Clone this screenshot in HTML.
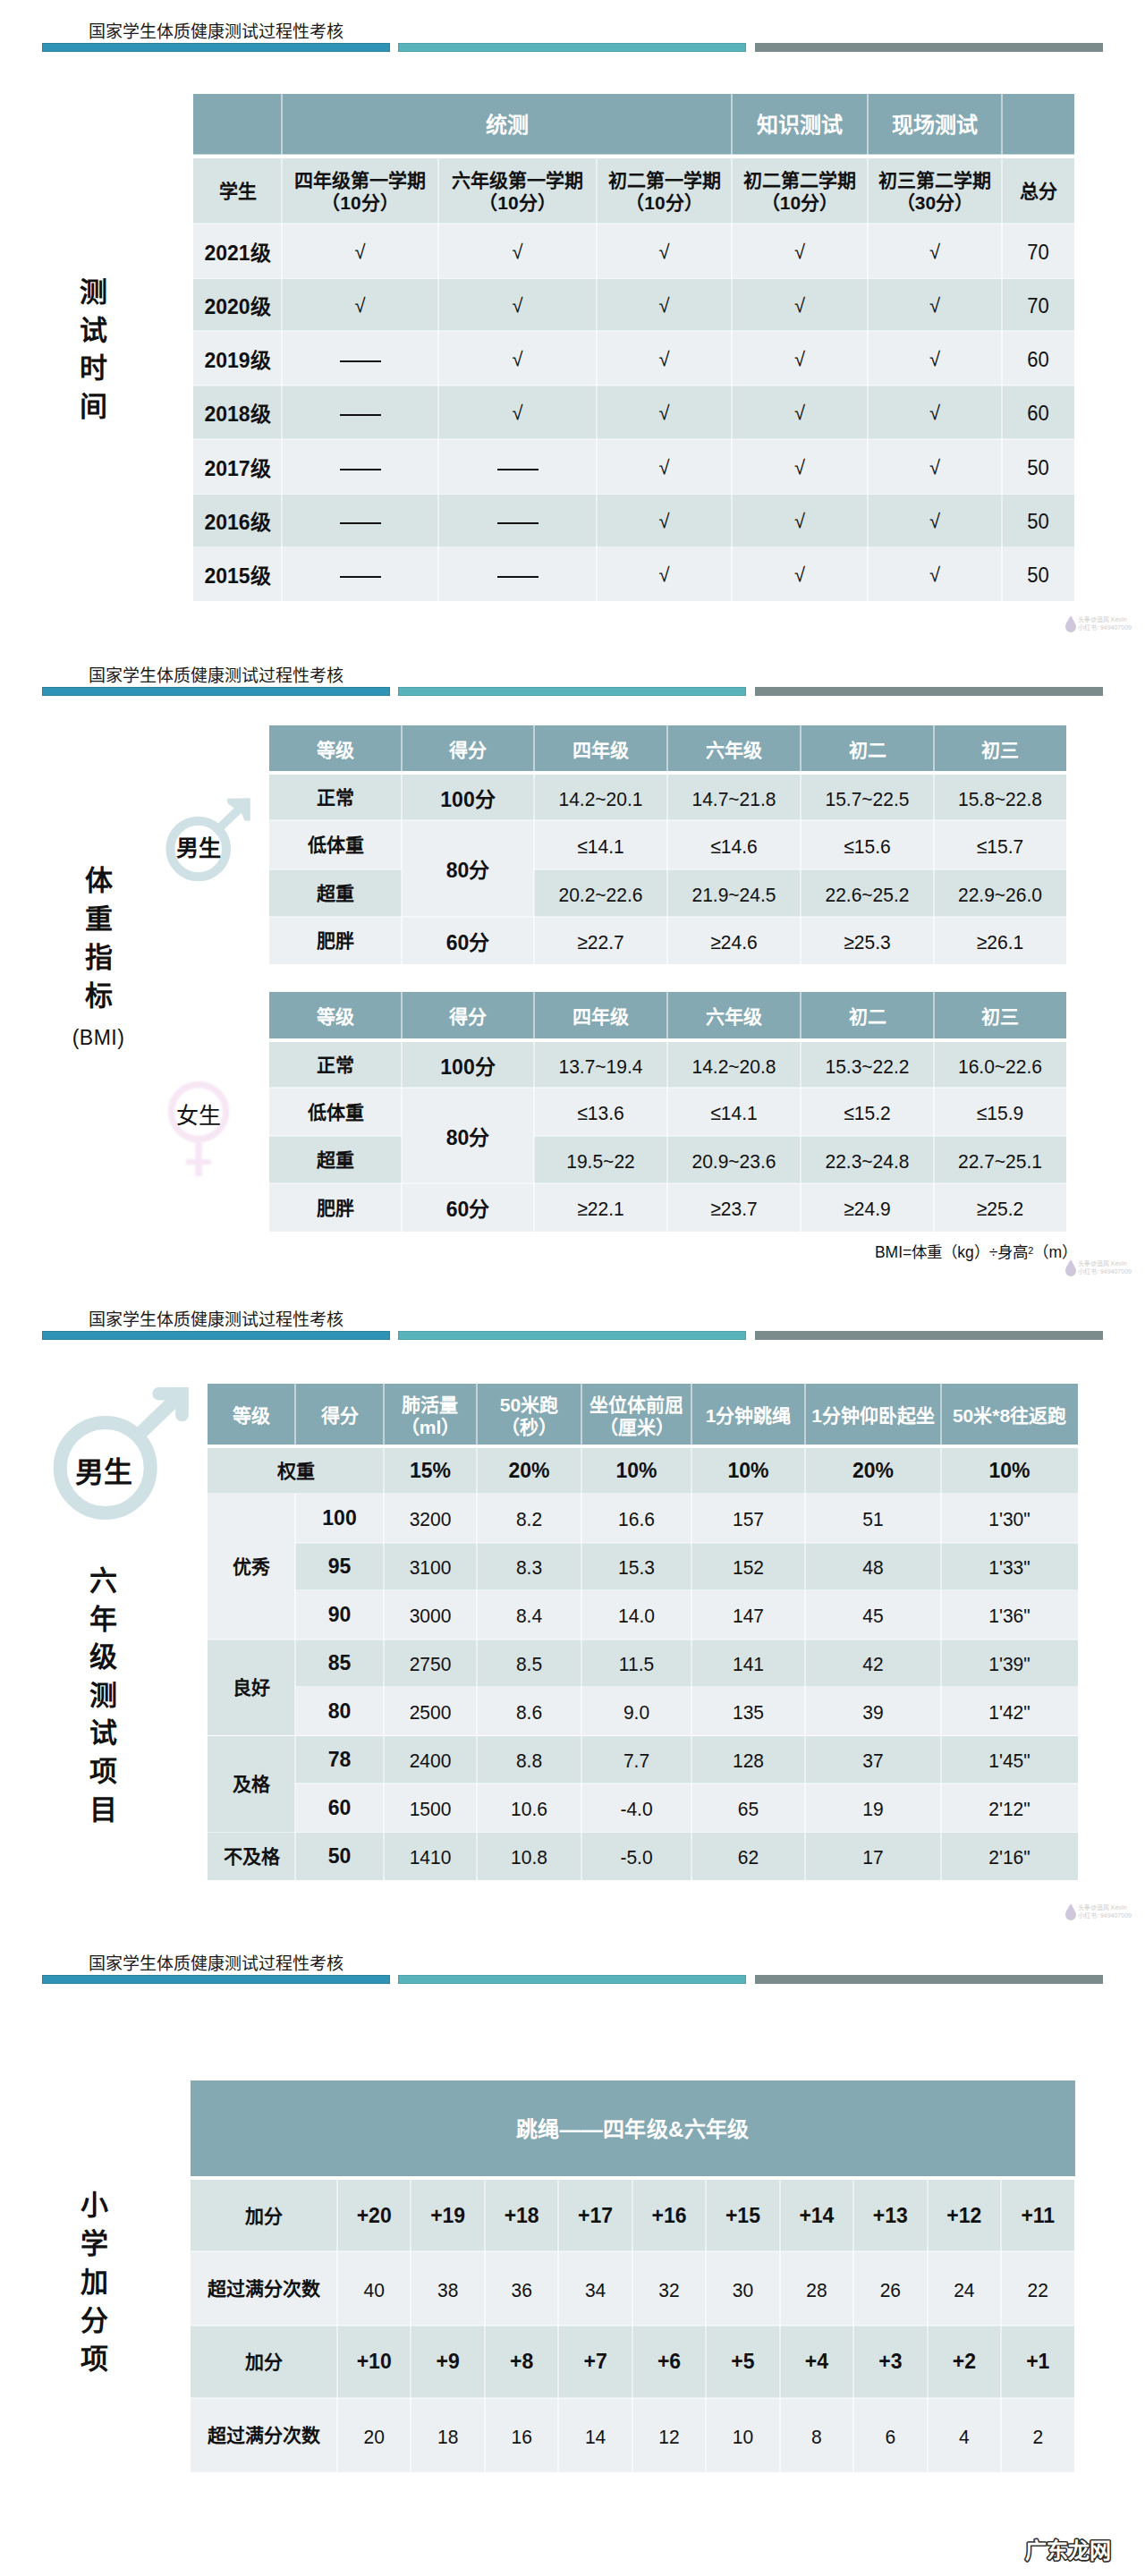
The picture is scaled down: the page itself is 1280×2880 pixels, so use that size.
<!DOCTYPE html>
<html lang="zh-CN"><head><meta charset="utf-8">
<style>
html,body{margin:0;padding:0;background:#fff;}
body{width:1280px;height:2880px;position:relative;overflow:hidden;font-family:"Liberation Sans",sans-serif;color:#111;}
.r{position:absolute;}
.t{position:absolute;display:flex;align-items:center;justify-content:center;text-align:center;white-space:nowrap;}
.ttl{justify-content:flex-start;font-family:"Liberation Serif",serif;font-size:19px;color:#1a1a1a;}
.vt{font-family:"Liberation Serif",serif;color:#111;}
.hw{color:#fff;font-weight:bold;font-size:24px;padding-bottom:3px;box-sizing:border-box;}
.hw21{color:#fff;font-weight:bold;font-size:21px;}
.hw20{color:#fff;font-weight:bold;font-size:21px;line-height:25px;padding-top:3px;box-sizing:border-box;}
.b21{font-weight:bold;font-size:21px;line-height:25px;}
.b22{font-weight:bold;font-size:23px;}
.n22{font-size:22px;}
.n21{font-size:21px;}
.n21 span,.n22 span{display:inline-block;transform:scaleY(1.07) translateY(1px);}
.chk{font-size:22px;padding-top:2px;box-sizing:border-box;}
.dl{display:block;width:46px;height:2px;background:#111;margin-top:6px;}
.gs{font-family:"Liberation Serif",serif;font-size:25px;}
.bmi{font-size:23px;letter-spacing:0.5px;}
.foot{justify-content:flex-end;font-size:17.5px;}
.foot sup{font-size:11px;line-height:0;}
.wm{font-size:24px;font-weight:bold;color:#fff;-webkit-text-stroke:1.2px #222;}
</style></head><body>
<svg class="r" style="left:1188px;top:686px" width="80" height="22"><path d="M9,2 C6,8 3,11 3,15 A6,6 0 0 0 15,15 C15,11 12,8 9,2Z" fill="#cfc8dc"/><text x="17" y="9" font-size="7" fill="#cdcdcd" font-family="Liberation Sans, sans-serif">头条@追风 Kevin</text><text x="17" y="18" font-size="7" fill="#cdcdcd" font-family="Liberation Sans, sans-serif">小红书: 949407009</text></svg>
<svg class="r" style="left:1188px;top:1406px" width="80" height="22"><path d="M9,2 C6,8 3,11 3,15 A6,6 0 0 0 15,15 C15,11 12,8 9,2Z" fill="#cfc8dc"/><text x="17" y="9" font-size="7" fill="#cdcdcd" font-family="Liberation Sans, sans-serif">头条@追风 Kevin</text><text x="17" y="18" font-size="7" fill="#cdcdcd" font-family="Liberation Sans, sans-serif">小红书: 949407009</text></svg>
<svg class="r" style="left:1188px;top:2126px" width="80" height="22"><path d="M9,2 C6,8 3,11 3,15 A6,6 0 0 0 15,15 C15,11 12,8 9,2Z" fill="#cfc8dc"/><text x="17" y="9" font-size="7" fill="#cdcdcd" font-family="Liberation Sans, sans-serif">头条@追风 Kevin</text><text x="17" y="18" font-size="7" fill="#cdcdcd" font-family="Liberation Sans, sans-serif">小红书: 949407009</text></svg>
<div class="t ttl" style="left:99px;top:21px;width:501px;height:25px;">国家学生体质健康测试过程性考核</div>
<div class="r" style="left:47px;top:48px;width:389px;height:10px;background:#2f93b5;box-shadow:inset 0 0 0 1px rgba(40,80,100,0.25)"></div>
<div class="r" style="left:445px;top:48px;width:389px;height:10px;background:#59b3bb;box-shadow:inset 0 0 0 1px rgba(40,90,100,0.2)"></div>
<div class="r" style="left:844px;top:48px;width:389px;height:10px;background:#7b8a8a;"></div>
<div class="t vt" style="left:74px;top:306.0px;width:60px;height:42.5px;font-size:31px;line-height:42.5px;font-weight:bold">测</div>
<div class="t vt" style="left:74px;top:348.5px;width:60px;height:42.5px;font-size:31px;line-height:42.5px;font-weight:bold">试</div>
<div class="t vt" style="left:74px;top:391.0px;width:60px;height:42.5px;font-size:31px;line-height:42.5px;font-weight:bold">时</div>
<div class="t vt" style="left:74px;top:433.5px;width:60px;height:42.5px;font-size:31px;line-height:42.5px;font-weight:bold">间</div>
<div class="r" style="left:216px;top:105px;width:99px;height:68px;background:#84a9b3;"></div>
<div class="r" style="left:315px;top:105px;width:503px;height:68px;background:#84a9b3;"></div>
<div class="t hw" style="left:315px;top:105px;width:503px;height:68px;">统测</div>
<div class="r" style="left:818px;top:105px;width:152px;height:68px;background:#84a9b3;"></div>
<div class="t hw" style="left:818px;top:105px;width:152px;height:68px;">知识测试</div>
<div class="r" style="left:970px;top:105px;width:150px;height:68px;background:#84a9b3;"></div>
<div class="t hw" style="left:970px;top:105px;width:150px;height:68px;">现场测试</div>
<div class="r" style="left:1120px;top:105px;width:81px;height:68px;background:#84a9b3;"></div>
<div class="r" style="left:314px;top:105px;width:2px;height:68px;background:rgba(255,255,255,0.5);"></div>
<div class="r" style="left:817px;top:105px;width:2px;height:68px;background:rgba(255,255,255,0.5);"></div>
<div class="r" style="left:969px;top:105px;width:2px;height:68px;background:rgba(255,255,255,0.5);"></div>
<div class="r" style="left:1119px;top:105px;width:2px;height:68px;background:rgba(255,255,255,0.5);"></div>
<div class="r" style="left:216px;top:172px;width:99px;height:1.5px;background:rgba(255,255,255,0.45);"></div>
<div class="r" style="left:315px;top:172px;width:503px;height:1.5px;background:rgba(255,255,255,0.45);"></div>
<div class="r" style="left:818px;top:172px;width:152px;height:1.5px;background:rgba(255,255,255,0.45);"></div>
<div class="r" style="left:970px;top:172px;width:150px;height:1.5px;background:rgba(255,255,255,0.45);"></div>
<div class="r" style="left:1120px;top:172px;width:81px;height:1.5px;background:rgba(255,255,255,0.45);"></div>
<div class="r" style="left:216px;top:173px;width:985px;height:4px;background:#ffffff;"></div>
<div class="r" style="left:216px;top:177px;width:99px;height:73px;background:#d8e3e4;"></div>
<div class="t b21" style="left:216px;top:177px;width:99px;height:73px;">学生</div>
<div class="r" style="left:315px;top:177px;width:175px;height:73px;background:#d8e3e4;"></div>
<div class="t b21" style="left:315px;top:177px;width:175px;height:73px;">四年级第一学期<br>（10分）</div>
<div class="r" style="left:490px;top:177px;width:177px;height:73px;background:#d8e3e4;"></div>
<div class="t b21" style="left:490px;top:177px;width:177px;height:73px;">六年级第一学期<br>（10分）</div>
<div class="r" style="left:667px;top:177px;width:151px;height:73px;background:#d8e3e4;"></div>
<div class="t b21" style="left:667px;top:177px;width:151px;height:73px;">初二第一学期<br>（10分）</div>
<div class="r" style="left:818px;top:177px;width:152px;height:73px;background:#d8e3e4;"></div>
<div class="t b21" style="left:818px;top:177px;width:152px;height:73px;">初二第二学期<br>（10分）</div>
<div class="r" style="left:970px;top:177px;width:150px;height:73px;background:#d8e3e4;"></div>
<div class="t b21" style="left:970px;top:177px;width:150px;height:73px;">初三第二学期<br>（30分）</div>
<div class="r" style="left:1120px;top:177px;width:81px;height:73px;background:#d8e3e4;"></div>
<div class="t b21" style="left:1120px;top:177px;width:81px;height:73px;">总分</div>
<div class="r" style="left:216px;top:250px;width:99px;height:61.60000000000002px;background:#ecf0f3;"></div>
<div class="t b22" style="left:216px;top:250px;width:99px;height:61.60000000000002px;">2021级</div>
<div class="r" style="left:315px;top:250px;width:175px;height:61.60000000000002px;background:#ecf0f3;"></div>
<div class="t chk" style="left:315px;top:250px;width:175px;height:61.60000000000002px;">√</div>
<div class="r" style="left:490px;top:250px;width:177px;height:61.60000000000002px;background:#ecf0f3;"></div>
<div class="t chk" style="left:490px;top:250px;width:177px;height:61.60000000000002px;">√</div>
<div class="r" style="left:667px;top:250px;width:151px;height:61.60000000000002px;background:#ecf0f3;"></div>
<div class="t chk" style="left:667px;top:250px;width:151px;height:61.60000000000002px;">√</div>
<div class="r" style="left:818px;top:250px;width:152px;height:61.60000000000002px;background:#ecf0f3;"></div>
<div class="t chk" style="left:818px;top:250px;width:152px;height:61.60000000000002px;">√</div>
<div class="r" style="left:970px;top:250px;width:150px;height:61.60000000000002px;background:#ecf0f3;"></div>
<div class="t chk" style="left:970px;top:250px;width:150px;height:61.60000000000002px;">√</div>
<div class="r" style="left:1120px;top:250px;width:81px;height:61.60000000000002px;background:#ecf0f3;"></div>
<div class="t n22" style="left:1120px;top:250px;width:81px;height:61.60000000000002px;"><span>70</span></div>
<div class="r" style="left:216px;top:311.6px;width:99px;height:58.39999999999998px;background:#d8e3e4;"></div>
<div class="t b22" style="left:216px;top:311.6px;width:99px;height:58.39999999999998px;">2020级</div>
<div class="r" style="left:315px;top:311.6px;width:175px;height:58.39999999999998px;background:#d8e3e4;"></div>
<div class="t chk" style="left:315px;top:311.6px;width:175px;height:58.39999999999998px;">√</div>
<div class="r" style="left:490px;top:311.6px;width:177px;height:58.39999999999998px;background:#d8e3e4;"></div>
<div class="t chk" style="left:490px;top:311.6px;width:177px;height:58.39999999999998px;">√</div>
<div class="r" style="left:667px;top:311.6px;width:151px;height:58.39999999999998px;background:#d8e3e4;"></div>
<div class="t chk" style="left:667px;top:311.6px;width:151px;height:58.39999999999998px;">√</div>
<div class="r" style="left:818px;top:311.6px;width:152px;height:58.39999999999998px;background:#d8e3e4;"></div>
<div class="t chk" style="left:818px;top:311.6px;width:152px;height:58.39999999999998px;">√</div>
<div class="r" style="left:970px;top:311.6px;width:150px;height:58.39999999999998px;background:#d8e3e4;"></div>
<div class="t chk" style="left:970px;top:311.6px;width:150px;height:58.39999999999998px;">√</div>
<div class="r" style="left:1120px;top:311.6px;width:81px;height:58.39999999999998px;background:#d8e3e4;"></div>
<div class="t n22" style="left:1120px;top:311.6px;width:81px;height:58.39999999999998px;"><span>70</span></div>
<div class="r" style="left:216px;top:370px;width:99px;height:61px;background:#ecf0f3;"></div>
<div class="t b22" style="left:216px;top:370px;width:99px;height:61px;">2019级</div>
<div class="r" style="left:315px;top:370px;width:175px;height:61px;background:#ecf0f3;"></div>
<div class="t dash" style="left:315px;top:370px;width:175px;height:61px;"><span class="dl"></span></div>
<div class="r" style="left:490px;top:370px;width:177px;height:61px;background:#ecf0f3;"></div>
<div class="t chk" style="left:490px;top:370px;width:177px;height:61px;">√</div>
<div class="r" style="left:667px;top:370px;width:151px;height:61px;background:#ecf0f3;"></div>
<div class="t chk" style="left:667px;top:370px;width:151px;height:61px;">√</div>
<div class="r" style="left:818px;top:370px;width:152px;height:61px;background:#ecf0f3;"></div>
<div class="t chk" style="left:818px;top:370px;width:152px;height:61px;">√</div>
<div class="r" style="left:970px;top:370px;width:150px;height:61px;background:#ecf0f3;"></div>
<div class="t chk" style="left:970px;top:370px;width:150px;height:61px;">√</div>
<div class="r" style="left:1120px;top:370px;width:81px;height:61px;background:#ecf0f3;"></div>
<div class="t n22" style="left:1120px;top:370px;width:81px;height:61px;"><span>60</span></div>
<div class="r" style="left:216px;top:431px;width:99px;height:60.39999999999998px;background:#d8e3e4;"></div>
<div class="t b22" style="left:216px;top:431px;width:99px;height:60.39999999999998px;">2018级</div>
<div class="r" style="left:315px;top:431px;width:175px;height:60.39999999999998px;background:#d8e3e4;"></div>
<div class="t dash" style="left:315px;top:431px;width:175px;height:60.39999999999998px;"><span class="dl"></span></div>
<div class="r" style="left:490px;top:431px;width:177px;height:60.39999999999998px;background:#d8e3e4;"></div>
<div class="t chk" style="left:490px;top:431px;width:177px;height:60.39999999999998px;">√</div>
<div class="r" style="left:667px;top:431px;width:151px;height:60.39999999999998px;background:#d8e3e4;"></div>
<div class="t chk" style="left:667px;top:431px;width:151px;height:60.39999999999998px;">√</div>
<div class="r" style="left:818px;top:431px;width:152px;height:60.39999999999998px;background:#d8e3e4;"></div>
<div class="t chk" style="left:818px;top:431px;width:152px;height:60.39999999999998px;">√</div>
<div class="r" style="left:970px;top:431px;width:150px;height:60.39999999999998px;background:#d8e3e4;"></div>
<div class="t chk" style="left:970px;top:431px;width:150px;height:60.39999999999998px;">√</div>
<div class="r" style="left:1120px;top:431px;width:81px;height:60.39999999999998px;background:#d8e3e4;"></div>
<div class="t n22" style="left:1120px;top:431px;width:81px;height:60.39999999999998px;"><span>60</span></div>
<div class="r" style="left:216px;top:491.4px;width:99px;height:61.200000000000045px;background:#ecf0f3;"></div>
<div class="t b22" style="left:216px;top:491.4px;width:99px;height:61.200000000000045px;">2017级</div>
<div class="r" style="left:315px;top:491.4px;width:175px;height:61.200000000000045px;background:#ecf0f3;"></div>
<div class="t dash" style="left:315px;top:491.4px;width:175px;height:61.200000000000045px;"><span class="dl"></span></div>
<div class="r" style="left:490px;top:491.4px;width:177px;height:61.200000000000045px;background:#ecf0f3;"></div>
<div class="t dash" style="left:490px;top:491.4px;width:177px;height:61.200000000000045px;"><span class="dl"></span></div>
<div class="r" style="left:667px;top:491.4px;width:151px;height:61.200000000000045px;background:#ecf0f3;"></div>
<div class="t chk" style="left:667px;top:491.4px;width:151px;height:61.200000000000045px;">√</div>
<div class="r" style="left:818px;top:491.4px;width:152px;height:61.200000000000045px;background:#ecf0f3;"></div>
<div class="t chk" style="left:818px;top:491.4px;width:152px;height:61.200000000000045px;">√</div>
<div class="r" style="left:970px;top:491.4px;width:150px;height:61.200000000000045px;background:#ecf0f3;"></div>
<div class="t chk" style="left:970px;top:491.4px;width:150px;height:61.200000000000045px;">√</div>
<div class="r" style="left:1120px;top:491.4px;width:81px;height:61.200000000000045px;background:#ecf0f3;"></div>
<div class="t n22" style="left:1120px;top:491.4px;width:81px;height:61.200000000000045px;"><span>50</span></div>
<div class="r" style="left:216px;top:552.6px;width:99px;height:59.0px;background:#d8e3e4;"></div>
<div class="t b22" style="left:216px;top:552.6px;width:99px;height:59.0px;">2016级</div>
<div class="r" style="left:315px;top:552.6px;width:175px;height:59.0px;background:#d8e3e4;"></div>
<div class="t dash" style="left:315px;top:552.6px;width:175px;height:59.0px;"><span class="dl"></span></div>
<div class="r" style="left:490px;top:552.6px;width:177px;height:59.0px;background:#d8e3e4;"></div>
<div class="t dash" style="left:490px;top:552.6px;width:177px;height:59.0px;"><span class="dl"></span></div>
<div class="r" style="left:667px;top:552.6px;width:151px;height:59.0px;background:#d8e3e4;"></div>
<div class="t chk" style="left:667px;top:552.6px;width:151px;height:59.0px;">√</div>
<div class="r" style="left:818px;top:552.6px;width:152px;height:59.0px;background:#d8e3e4;"></div>
<div class="t chk" style="left:818px;top:552.6px;width:152px;height:59.0px;">√</div>
<div class="r" style="left:970px;top:552.6px;width:150px;height:59.0px;background:#d8e3e4;"></div>
<div class="t chk" style="left:970px;top:552.6px;width:150px;height:59.0px;">√</div>
<div class="r" style="left:1120px;top:552.6px;width:81px;height:59.0px;background:#d8e3e4;"></div>
<div class="t n22" style="left:1120px;top:552.6px;width:81px;height:59.0px;"><span>50</span></div>
<div class="r" style="left:216px;top:611.6px;width:99px;height:60.39999999999998px;background:#ecf0f3;"></div>
<div class="t b22" style="left:216px;top:611.6px;width:99px;height:60.39999999999998px;">2015级</div>
<div class="r" style="left:315px;top:611.6px;width:175px;height:60.39999999999998px;background:#ecf0f3;"></div>
<div class="t dash" style="left:315px;top:611.6px;width:175px;height:60.39999999999998px;"><span class="dl"></span></div>
<div class="r" style="left:490px;top:611.6px;width:177px;height:60.39999999999998px;background:#ecf0f3;"></div>
<div class="t dash" style="left:490px;top:611.6px;width:177px;height:60.39999999999998px;"><span class="dl"></span></div>
<div class="r" style="left:667px;top:611.6px;width:151px;height:60.39999999999998px;background:#ecf0f3;"></div>
<div class="t chk" style="left:667px;top:611.6px;width:151px;height:60.39999999999998px;">√</div>
<div class="r" style="left:818px;top:611.6px;width:152px;height:60.39999999999998px;background:#ecf0f3;"></div>
<div class="t chk" style="left:818px;top:611.6px;width:152px;height:60.39999999999998px;">√</div>
<div class="r" style="left:970px;top:611.6px;width:150px;height:60.39999999999998px;background:#ecf0f3;"></div>
<div class="t chk" style="left:970px;top:611.6px;width:150px;height:60.39999999999998px;">√</div>
<div class="r" style="left:1120px;top:611.6px;width:81px;height:60.39999999999998px;background:#ecf0f3;"></div>
<div class="t n22" style="left:1120px;top:611.6px;width:81px;height:60.39999999999998px;"><span>50</span></div>
<div class="r" style="left:314px;top:177px;width:2px;height:73px;background:rgba(255,255,255,0.5);"></div>
<div class="r" style="left:489px;top:177px;width:2px;height:73px;background:rgba(255,255,255,0.5);"></div>
<div class="r" style="left:666px;top:177px;width:2px;height:73px;background:rgba(255,255,255,0.5);"></div>
<div class="r" style="left:817px;top:177px;width:2px;height:73px;background:rgba(255,255,255,0.5);"></div>
<div class="r" style="left:969px;top:177px;width:2px;height:73px;background:rgba(255,255,255,0.5);"></div>
<div class="r" style="left:1119px;top:177px;width:2px;height:73px;background:rgba(255,255,255,0.5);"></div>
<div class="r" style="left:314px;top:250px;width:2px;height:61.60000000000002px;background:rgba(255,255,255,0.5);"></div>
<div class="r" style="left:489px;top:250px;width:2px;height:61.60000000000002px;background:rgba(255,255,255,0.5);"></div>
<div class="r" style="left:666px;top:250px;width:2px;height:61.60000000000002px;background:rgba(255,255,255,0.5);"></div>
<div class="r" style="left:817px;top:250px;width:2px;height:61.60000000000002px;background:rgba(255,255,255,0.5);"></div>
<div class="r" style="left:969px;top:250px;width:2px;height:61.60000000000002px;background:rgba(255,255,255,0.5);"></div>
<div class="r" style="left:1119px;top:250px;width:2px;height:61.60000000000002px;background:rgba(255,255,255,0.5);"></div>
<div class="r" style="left:314px;top:311.6px;width:2px;height:58.39999999999998px;background:rgba(255,255,255,0.5);"></div>
<div class="r" style="left:489px;top:311.6px;width:2px;height:58.39999999999998px;background:rgba(255,255,255,0.5);"></div>
<div class="r" style="left:666px;top:311.6px;width:2px;height:58.39999999999998px;background:rgba(255,255,255,0.5);"></div>
<div class="r" style="left:817px;top:311.6px;width:2px;height:58.39999999999998px;background:rgba(255,255,255,0.5);"></div>
<div class="r" style="left:969px;top:311.6px;width:2px;height:58.39999999999998px;background:rgba(255,255,255,0.5);"></div>
<div class="r" style="left:1119px;top:311.6px;width:2px;height:58.39999999999998px;background:rgba(255,255,255,0.5);"></div>
<div class="r" style="left:314px;top:370px;width:2px;height:61px;background:rgba(255,255,255,0.5);"></div>
<div class="r" style="left:489px;top:370px;width:2px;height:61px;background:rgba(255,255,255,0.5);"></div>
<div class="r" style="left:666px;top:370px;width:2px;height:61px;background:rgba(255,255,255,0.5);"></div>
<div class="r" style="left:817px;top:370px;width:2px;height:61px;background:rgba(255,255,255,0.5);"></div>
<div class="r" style="left:969px;top:370px;width:2px;height:61px;background:rgba(255,255,255,0.5);"></div>
<div class="r" style="left:1119px;top:370px;width:2px;height:61px;background:rgba(255,255,255,0.5);"></div>
<div class="r" style="left:314px;top:431px;width:2px;height:60.39999999999998px;background:rgba(255,255,255,0.5);"></div>
<div class="r" style="left:489px;top:431px;width:2px;height:60.39999999999998px;background:rgba(255,255,255,0.5);"></div>
<div class="r" style="left:666px;top:431px;width:2px;height:60.39999999999998px;background:rgba(255,255,255,0.5);"></div>
<div class="r" style="left:817px;top:431px;width:2px;height:60.39999999999998px;background:rgba(255,255,255,0.5);"></div>
<div class="r" style="left:969px;top:431px;width:2px;height:60.39999999999998px;background:rgba(255,255,255,0.5);"></div>
<div class="r" style="left:1119px;top:431px;width:2px;height:60.39999999999998px;background:rgba(255,255,255,0.5);"></div>
<div class="r" style="left:314px;top:491.4px;width:2px;height:61.200000000000045px;background:rgba(255,255,255,0.5);"></div>
<div class="r" style="left:489px;top:491.4px;width:2px;height:61.200000000000045px;background:rgba(255,255,255,0.5);"></div>
<div class="r" style="left:666px;top:491.4px;width:2px;height:61.200000000000045px;background:rgba(255,255,255,0.5);"></div>
<div class="r" style="left:817px;top:491.4px;width:2px;height:61.200000000000045px;background:rgba(255,255,255,0.5);"></div>
<div class="r" style="left:969px;top:491.4px;width:2px;height:61.200000000000045px;background:rgba(255,255,255,0.5);"></div>
<div class="r" style="left:1119px;top:491.4px;width:2px;height:61.200000000000045px;background:rgba(255,255,255,0.5);"></div>
<div class="r" style="left:314px;top:552.6px;width:2px;height:59.0px;background:rgba(255,255,255,0.5);"></div>
<div class="r" style="left:489px;top:552.6px;width:2px;height:59.0px;background:rgba(255,255,255,0.5);"></div>
<div class="r" style="left:666px;top:552.6px;width:2px;height:59.0px;background:rgba(255,255,255,0.5);"></div>
<div class="r" style="left:817px;top:552.6px;width:2px;height:59.0px;background:rgba(255,255,255,0.5);"></div>
<div class="r" style="left:969px;top:552.6px;width:2px;height:59.0px;background:rgba(255,255,255,0.5);"></div>
<div class="r" style="left:1119px;top:552.6px;width:2px;height:59.0px;background:rgba(255,255,255,0.5);"></div>
<div class="r" style="left:314px;top:611.6px;width:2px;height:60.39999999999998px;background:rgba(255,255,255,0.5);"></div>
<div class="r" style="left:489px;top:611.6px;width:2px;height:60.39999999999998px;background:rgba(255,255,255,0.5);"></div>
<div class="r" style="left:666px;top:611.6px;width:2px;height:60.39999999999998px;background:rgba(255,255,255,0.5);"></div>
<div class="r" style="left:817px;top:611.6px;width:2px;height:60.39999999999998px;background:rgba(255,255,255,0.5);"></div>
<div class="r" style="left:969px;top:611.6px;width:2px;height:60.39999999999998px;background:rgba(255,255,255,0.5);"></div>
<div class="r" style="left:1119px;top:611.6px;width:2px;height:60.39999999999998px;background:rgba(255,255,255,0.5);"></div>
<div class="r" style="left:216px;top:249px;width:99px;height:1.5px;background:rgba(255,255,255,0.45);"></div>
<div class="r" style="left:315px;top:249px;width:175px;height:1.5px;background:rgba(255,255,255,0.45);"></div>
<div class="r" style="left:490px;top:249px;width:177px;height:1.5px;background:rgba(255,255,255,0.45);"></div>
<div class="r" style="left:667px;top:249px;width:151px;height:1.5px;background:rgba(255,255,255,0.45);"></div>
<div class="r" style="left:818px;top:249px;width:152px;height:1.5px;background:rgba(255,255,255,0.45);"></div>
<div class="r" style="left:970px;top:249px;width:150px;height:1.5px;background:rgba(255,255,255,0.45);"></div>
<div class="r" style="left:1120px;top:249px;width:81px;height:1.5px;background:rgba(255,255,255,0.45);"></div>
<div class="r" style="left:216px;top:310.6px;width:99px;height:1.5px;background:rgba(255,255,255,0.45);"></div>
<div class="r" style="left:315px;top:310.6px;width:175px;height:1.5px;background:rgba(255,255,255,0.45);"></div>
<div class="r" style="left:490px;top:310.6px;width:177px;height:1.5px;background:rgba(255,255,255,0.45);"></div>
<div class="r" style="left:667px;top:310.6px;width:151px;height:1.5px;background:rgba(255,255,255,0.45);"></div>
<div class="r" style="left:818px;top:310.6px;width:152px;height:1.5px;background:rgba(255,255,255,0.45);"></div>
<div class="r" style="left:970px;top:310.6px;width:150px;height:1.5px;background:rgba(255,255,255,0.45);"></div>
<div class="r" style="left:1120px;top:310.6px;width:81px;height:1.5px;background:rgba(255,255,255,0.45);"></div>
<div class="r" style="left:216px;top:369px;width:99px;height:1.5px;background:rgba(255,255,255,0.45);"></div>
<div class="r" style="left:315px;top:369px;width:175px;height:1.5px;background:rgba(255,255,255,0.45);"></div>
<div class="r" style="left:490px;top:369px;width:177px;height:1.5px;background:rgba(255,255,255,0.45);"></div>
<div class="r" style="left:667px;top:369px;width:151px;height:1.5px;background:rgba(255,255,255,0.45);"></div>
<div class="r" style="left:818px;top:369px;width:152px;height:1.5px;background:rgba(255,255,255,0.45);"></div>
<div class="r" style="left:970px;top:369px;width:150px;height:1.5px;background:rgba(255,255,255,0.45);"></div>
<div class="r" style="left:1120px;top:369px;width:81px;height:1.5px;background:rgba(255,255,255,0.45);"></div>
<div class="r" style="left:216px;top:430px;width:99px;height:1.5px;background:rgba(255,255,255,0.45);"></div>
<div class="r" style="left:315px;top:430px;width:175px;height:1.5px;background:rgba(255,255,255,0.45);"></div>
<div class="r" style="left:490px;top:430px;width:177px;height:1.5px;background:rgba(255,255,255,0.45);"></div>
<div class="r" style="left:667px;top:430px;width:151px;height:1.5px;background:rgba(255,255,255,0.45);"></div>
<div class="r" style="left:818px;top:430px;width:152px;height:1.5px;background:rgba(255,255,255,0.45);"></div>
<div class="r" style="left:970px;top:430px;width:150px;height:1.5px;background:rgba(255,255,255,0.45);"></div>
<div class="r" style="left:1120px;top:430px;width:81px;height:1.5px;background:rgba(255,255,255,0.45);"></div>
<div class="r" style="left:216px;top:490.4px;width:99px;height:1.5px;background:rgba(255,255,255,0.45);"></div>
<div class="r" style="left:315px;top:490.4px;width:175px;height:1.5px;background:rgba(255,255,255,0.45);"></div>
<div class="r" style="left:490px;top:490.4px;width:177px;height:1.5px;background:rgba(255,255,255,0.45);"></div>
<div class="r" style="left:667px;top:490.4px;width:151px;height:1.5px;background:rgba(255,255,255,0.45);"></div>
<div class="r" style="left:818px;top:490.4px;width:152px;height:1.5px;background:rgba(255,255,255,0.45);"></div>
<div class="r" style="left:970px;top:490.4px;width:150px;height:1.5px;background:rgba(255,255,255,0.45);"></div>
<div class="r" style="left:1120px;top:490.4px;width:81px;height:1.5px;background:rgba(255,255,255,0.45);"></div>
<div class="r" style="left:216px;top:551.6px;width:99px;height:1.5px;background:rgba(255,255,255,0.45);"></div>
<div class="r" style="left:315px;top:551.6px;width:175px;height:1.5px;background:rgba(255,255,255,0.45);"></div>
<div class="r" style="left:490px;top:551.6px;width:177px;height:1.5px;background:rgba(255,255,255,0.45);"></div>
<div class="r" style="left:667px;top:551.6px;width:151px;height:1.5px;background:rgba(255,255,255,0.45);"></div>
<div class="r" style="left:818px;top:551.6px;width:152px;height:1.5px;background:rgba(255,255,255,0.45);"></div>
<div class="r" style="left:970px;top:551.6px;width:150px;height:1.5px;background:rgba(255,255,255,0.45);"></div>
<div class="r" style="left:1120px;top:551.6px;width:81px;height:1.5px;background:rgba(255,255,255,0.45);"></div>
<div class="r" style="left:216px;top:610.6px;width:99px;height:1.5px;background:rgba(255,255,255,0.45);"></div>
<div class="r" style="left:315px;top:610.6px;width:175px;height:1.5px;background:rgba(255,255,255,0.45);"></div>
<div class="r" style="left:490px;top:610.6px;width:177px;height:1.5px;background:rgba(255,255,255,0.45);"></div>
<div class="r" style="left:667px;top:610.6px;width:151px;height:1.5px;background:rgba(255,255,255,0.45);"></div>
<div class="r" style="left:818px;top:610.6px;width:152px;height:1.5px;background:rgba(255,255,255,0.45);"></div>
<div class="r" style="left:970px;top:610.6px;width:150px;height:1.5px;background:rgba(255,255,255,0.45);"></div>
<div class="r" style="left:1120px;top:610.6px;width:81px;height:1.5px;background:rgba(255,255,255,0.45);"></div>
<div class="t ttl" style="left:99px;top:741px;width:501px;height:25px;">国家学生体质健康测试过程性考核</div>
<div class="r" style="left:47px;top:768px;width:389px;height:10px;background:#2f93b5;box-shadow:inset 0 0 0 1px rgba(40,80,100,0.25)"></div>
<div class="r" style="left:445px;top:768px;width:389px;height:10px;background:#59b3bb;box-shadow:inset 0 0 0 1px rgba(40,90,100,0.2)"></div>
<div class="r" style="left:844px;top:768px;width:389px;height:10px;background:#7b8a8a;"></div>
<div class="t vt" style="left:80px;top:963px;width:60px;height:43px;font-size:31px;line-height:43px;font-weight:bold">体</div>
<div class="t vt" style="left:80px;top:1006px;width:60px;height:43px;font-size:31px;line-height:43px;font-weight:bold">重</div>
<div class="t vt" style="left:80px;top:1049px;width:60px;height:43px;font-size:31px;line-height:43px;font-weight:bold">指</div>
<div class="t vt" style="left:80px;top:1092px;width:60px;height:43px;font-size:31px;line-height:43px;font-weight:bold">标</div>
<div class="t bmi" style="left:60px;top:1146px;width:100px;height:28px;">(BMI)</div>
<svg class="r" style="left:170px;top:880px" width="120" height="120" viewBox="170 880 120 120">
<circle cx="221.7" cy="949" r="31.3" fill="none" stroke="#cfe1e5" stroke-width="10"/>
<line x1="240" y1="931" x2="275" y2="897" stroke="#cfe1e5" stroke-width="9.5"/>
<polygon points="279,893 254.5,893.5 255.5,898.2 261.6,902.6 271.3,910 273.8,916.8 279,917" fill="#cfe1e5" stroke="#cfe1e5" stroke-width="1.5" stroke-linejoin="round"/>
</svg>
<div class="t gs" style="left:190px;top:930px;width:64px;height:32px;font-weight:bold">男生</div>
<svg class="r" style="left:160px;top:1190px" width="130" height="150" viewBox="160 1190 130 150">
<defs><filter id="fb" x="-20%" y="-20%" width="140%" height="140%"><feGaussianBlur stdDeviation="1.2"/></filter></defs>
<g filter="url(#fb)" stroke="#f7e6f4" fill="none">
<circle cx="222" cy="1243" r="30.5" stroke-width="7.5"/>
<line x1="222" y1="1273" x2="222" y2="1315" stroke-width="7.5"/>
<line x1="208" y1="1299" x2="236" y2="1299" stroke-width="6"/>
</g>
</svg>
<div class="t gs" style="left:190px;top:1229px;width:64px;height:32px;">女生</div>
<div class="r" style="left:301px;top:811px;width:148px;height:51px;background:#84a9b3;"></div>
<div class="t hw21" style="left:301px;top:811px;width:148px;height:51px;">等级</div>
<div class="r" style="left:449px;top:811px;width:148px;height:51px;background:#84a9b3;"></div>
<div class="t hw21" style="left:449px;top:811px;width:148px;height:51px;">得分</div>
<div class="r" style="left:597px;top:811px;width:149px;height:51px;background:#84a9b3;"></div>
<div class="t hw21" style="left:597px;top:811px;width:149px;height:51px;">四年级</div>
<div class="r" style="left:746px;top:811px;width:149px;height:51px;background:#84a9b3;"></div>
<div class="t hw21" style="left:746px;top:811px;width:149px;height:51px;">六年级</div>
<div class="r" style="left:895px;top:811px;width:149px;height:51px;background:#84a9b3;"></div>
<div class="t hw21" style="left:895px;top:811px;width:149px;height:51px;">初二</div>
<div class="r" style="left:1044px;top:811px;width:148px;height:51px;background:#84a9b3;"></div>
<div class="t hw21" style="left:1044px;top:811px;width:148px;height:51px;">初三</div>
<div class="r" style="left:448px;top:811px;width:2px;height:51px;background:rgba(255,255,255,0.5);"></div>
<div class="r" style="left:596px;top:811px;width:2px;height:51px;background:rgba(255,255,255,0.5);"></div>
<div class="r" style="left:745px;top:811px;width:2px;height:51px;background:rgba(255,255,255,0.5);"></div>
<div class="r" style="left:894px;top:811px;width:2px;height:51px;background:rgba(255,255,255,0.5);"></div>
<div class="r" style="left:1043px;top:811px;width:2px;height:51px;background:rgba(255,255,255,0.5);"></div>
<div class="r" style="left:301px;top:862px;width:891px;height:4px;background:#ffffff;"></div>
<div class="r" style="left:301px;top:866px;width:148px;height:51px;background:#d8e3e4;"></div>
<div class="t b21" style="left:301px;top:866px;width:148px;height:51px;">正常</div>
<div class="r" style="left:301px;top:917px;width:148px;height:55px;background:#ecf0f3;"></div>
<div class="t b21" style="left:301px;top:917px;width:148px;height:55px;">低体重</div>
<div class="r" style="left:301px;top:972px;width:148px;height:53px;background:#d8e3e4;"></div>
<div class="t b21" style="left:301px;top:972px;width:148px;height:53px;">超重</div>
<div class="r" style="left:301px;top:1025px;width:148px;height:53px;background:#ecf0f3;"></div>
<div class="t b21" style="left:301px;top:1025px;width:148px;height:53px;">肥胖</div>
<div class="r" style="left:449px;top:866px;width:148px;height:51px;background:#d8e3e4;"></div>
<div class="t b22" style="left:449px;top:866px;width:148px;height:51px;">100分</div>
<div class="r" style="left:449px;top:917px;width:148px;height:108px;background:#ecf0f3;"></div>
<div class="t b22" style="left:449px;top:917px;width:148px;height:108px;">80分</div>
<div class="r" style="left:449px;top:1025px;width:148px;height:53px;background:#ecf0f3;"></div>
<div class="t b22" style="left:449px;top:1025px;width:148px;height:53px;">60分</div>
<div class="r" style="left:597px;top:866px;width:149px;height:51px;background:#d8e3e4;"></div>
<div class="t n21" style="left:597px;top:866px;width:149px;height:51px;"><span>14.2~20.1</span></div>
<div class="r" style="left:746px;top:866px;width:149px;height:51px;background:#d8e3e4;"></div>
<div class="t n21" style="left:746px;top:866px;width:149px;height:51px;"><span>14.7~21.8</span></div>
<div class="r" style="left:895px;top:866px;width:149px;height:51px;background:#d8e3e4;"></div>
<div class="t n21" style="left:895px;top:866px;width:149px;height:51px;"><span>15.7~22.5</span></div>
<div class="r" style="left:1044px;top:866px;width:148px;height:51px;background:#d8e3e4;"></div>
<div class="t n21" style="left:1044px;top:866px;width:148px;height:51px;"><span>15.8~22.8</span></div>
<div class="r" style="left:597px;top:917px;width:149px;height:55px;background:#ecf0f3;"></div>
<div class="t n21" style="left:597px;top:917px;width:149px;height:55px;"><span>≤14.1</span></div>
<div class="r" style="left:746px;top:917px;width:149px;height:55px;background:#ecf0f3;"></div>
<div class="t n21" style="left:746px;top:917px;width:149px;height:55px;"><span>≤14.6</span></div>
<div class="r" style="left:895px;top:917px;width:149px;height:55px;background:#ecf0f3;"></div>
<div class="t n21" style="left:895px;top:917px;width:149px;height:55px;"><span>≤15.6</span></div>
<div class="r" style="left:1044px;top:917px;width:148px;height:55px;background:#ecf0f3;"></div>
<div class="t n21" style="left:1044px;top:917px;width:148px;height:55px;"><span>≤15.7</span></div>
<div class="r" style="left:597px;top:972px;width:149px;height:53px;background:#d8e3e4;"></div>
<div class="t n21" style="left:597px;top:972px;width:149px;height:53px;"><span>20.2~22.6</span></div>
<div class="r" style="left:746px;top:972px;width:149px;height:53px;background:#d8e3e4;"></div>
<div class="t n21" style="left:746px;top:972px;width:149px;height:53px;"><span>21.9~24.5</span></div>
<div class="r" style="left:895px;top:972px;width:149px;height:53px;background:#d8e3e4;"></div>
<div class="t n21" style="left:895px;top:972px;width:149px;height:53px;"><span>22.6~25.2</span></div>
<div class="r" style="left:1044px;top:972px;width:148px;height:53px;background:#d8e3e4;"></div>
<div class="t n21" style="left:1044px;top:972px;width:148px;height:53px;"><span>22.9~26.0</span></div>
<div class="r" style="left:597px;top:1025px;width:149px;height:53px;background:#ecf0f3;"></div>
<div class="t n21" style="left:597px;top:1025px;width:149px;height:53px;"><span>≥22.7</span></div>
<div class="r" style="left:746px;top:1025px;width:149px;height:53px;background:#ecf0f3;"></div>
<div class="t n21" style="left:746px;top:1025px;width:149px;height:53px;"><span>≥24.6</span></div>
<div class="r" style="left:895px;top:1025px;width:149px;height:53px;background:#ecf0f3;"></div>
<div class="t n21" style="left:895px;top:1025px;width:149px;height:53px;"><span>≥25.3</span></div>
<div class="r" style="left:1044px;top:1025px;width:148px;height:53px;background:#ecf0f3;"></div>
<div class="t n21" style="left:1044px;top:1025px;width:148px;height:53px;"><span>≥26.1</span></div>
<div class="r" style="left:448px;top:866px;width:2px;height:51px;background:rgba(255,255,255,0.5);"></div>
<div class="r" style="left:448px;top:917px;width:2px;height:55px;background:rgba(255,255,255,0.5);"></div>
<div class="r" style="left:448px;top:972px;width:2px;height:53px;background:rgba(255,255,255,0.5);"></div>
<div class="r" style="left:448px;top:1025px;width:2px;height:53px;background:rgba(255,255,255,0.5);"></div>
<div class="r" style="left:596px;top:866px;width:2px;height:51px;background:rgba(255,255,255,0.5);"></div>
<div class="r" style="left:596px;top:917px;width:2px;height:108px;background:rgba(255,255,255,0.5);"></div>
<div class="r" style="left:596px;top:1025px;width:2px;height:53px;background:rgba(255,255,255,0.5);"></div>
<div class="r" style="left:745px;top:866px;width:2px;height:51px;background:rgba(255,255,255,0.5);"></div>
<div class="r" style="left:894px;top:866px;width:2px;height:51px;background:rgba(255,255,255,0.5);"></div>
<div class="r" style="left:1043px;top:866px;width:2px;height:51px;background:rgba(255,255,255,0.5);"></div>
<div class="r" style="left:745px;top:917px;width:2px;height:55px;background:rgba(255,255,255,0.5);"></div>
<div class="r" style="left:894px;top:917px;width:2px;height:55px;background:rgba(255,255,255,0.5);"></div>
<div class="r" style="left:1043px;top:917px;width:2px;height:55px;background:rgba(255,255,255,0.5);"></div>
<div class="r" style="left:745px;top:972px;width:2px;height:53px;background:rgba(255,255,255,0.5);"></div>
<div class="r" style="left:894px;top:972px;width:2px;height:53px;background:rgba(255,255,255,0.5);"></div>
<div class="r" style="left:1043px;top:972px;width:2px;height:53px;background:rgba(255,255,255,0.5);"></div>
<div class="r" style="left:745px;top:1025px;width:2px;height:53px;background:rgba(255,255,255,0.5);"></div>
<div class="r" style="left:894px;top:1025px;width:2px;height:53px;background:rgba(255,255,255,0.5);"></div>
<div class="r" style="left:1043px;top:1025px;width:2px;height:53px;background:rgba(255,255,255,0.5);"></div>
<div class="r" style="left:301px;top:916px;width:148px;height:1.5px;background:rgba(255,255,255,0.45);"></div>
<div class="r" style="left:301px;top:971px;width:148px;height:1.5px;background:rgba(255,255,255,0.45);"></div>
<div class="r" style="left:301px;top:1024px;width:148px;height:1.5px;background:rgba(255,255,255,0.45);"></div>
<div class="r" style="left:449px;top:916px;width:148px;height:1.5px;background:rgba(255,255,255,0.45);"></div>
<div class="r" style="left:449px;top:1024px;width:148px;height:1.5px;background:rgba(255,255,255,0.45);"></div>
<div class="r" style="left:597px;top:916px;width:149px;height:1.5px;background:rgba(255,255,255,0.45);"></div>
<div class="r" style="left:746px;top:916px;width:149px;height:1.5px;background:rgba(255,255,255,0.45);"></div>
<div class="r" style="left:895px;top:916px;width:149px;height:1.5px;background:rgba(255,255,255,0.45);"></div>
<div class="r" style="left:1044px;top:916px;width:148px;height:1.5px;background:rgba(255,255,255,0.45);"></div>
<div class="r" style="left:597px;top:971px;width:149px;height:1.5px;background:rgba(255,255,255,0.45);"></div>
<div class="r" style="left:746px;top:971px;width:149px;height:1.5px;background:rgba(255,255,255,0.45);"></div>
<div class="r" style="left:895px;top:971px;width:149px;height:1.5px;background:rgba(255,255,255,0.45);"></div>
<div class="r" style="left:1044px;top:971px;width:148px;height:1.5px;background:rgba(255,255,255,0.45);"></div>
<div class="r" style="left:597px;top:1024px;width:149px;height:1.5px;background:rgba(255,255,255,0.45);"></div>
<div class="r" style="left:746px;top:1024px;width:149px;height:1.5px;background:rgba(255,255,255,0.45);"></div>
<div class="r" style="left:895px;top:1024px;width:149px;height:1.5px;background:rgba(255,255,255,0.45);"></div>
<div class="r" style="left:1044px;top:1024px;width:148px;height:1.5px;background:rgba(255,255,255,0.45);"></div>
<div class="r" style="left:301px;top:1109px;width:148px;height:52px;background:#84a9b3;"></div>
<div class="t hw21" style="left:301px;top:1109px;width:148px;height:52px;">等级</div>
<div class="r" style="left:449px;top:1109px;width:148px;height:52px;background:#84a9b3;"></div>
<div class="t hw21" style="left:449px;top:1109px;width:148px;height:52px;">得分</div>
<div class="r" style="left:597px;top:1109px;width:149px;height:52px;background:#84a9b3;"></div>
<div class="t hw21" style="left:597px;top:1109px;width:149px;height:52px;">四年级</div>
<div class="r" style="left:746px;top:1109px;width:149px;height:52px;background:#84a9b3;"></div>
<div class="t hw21" style="left:746px;top:1109px;width:149px;height:52px;">六年级</div>
<div class="r" style="left:895px;top:1109px;width:149px;height:52px;background:#84a9b3;"></div>
<div class="t hw21" style="left:895px;top:1109px;width:149px;height:52px;">初二</div>
<div class="r" style="left:1044px;top:1109px;width:148px;height:52px;background:#84a9b3;"></div>
<div class="t hw21" style="left:1044px;top:1109px;width:148px;height:52px;">初三</div>
<div class="r" style="left:448px;top:1109px;width:2px;height:52px;background:rgba(255,255,255,0.5);"></div>
<div class="r" style="left:596px;top:1109px;width:2px;height:52px;background:rgba(255,255,255,0.5);"></div>
<div class="r" style="left:745px;top:1109px;width:2px;height:52px;background:rgba(255,255,255,0.5);"></div>
<div class="r" style="left:894px;top:1109px;width:2px;height:52px;background:rgba(255,255,255,0.5);"></div>
<div class="r" style="left:1043px;top:1109px;width:2px;height:52px;background:rgba(255,255,255,0.5);"></div>
<div class="r" style="left:301px;top:1161px;width:891px;height:4px;background:#ffffff;"></div>
<div class="r" style="left:301px;top:1165px;width:148px;height:51px;background:#d8e3e4;"></div>
<div class="t b21" style="left:301px;top:1165px;width:148px;height:51px;">正常</div>
<div class="r" style="left:301px;top:1216px;width:148px;height:54px;background:#ecf0f3;"></div>
<div class="t b21" style="left:301px;top:1216px;width:148px;height:54px;">低体重</div>
<div class="r" style="left:301px;top:1270px;width:148px;height:53px;background:#d8e3e4;"></div>
<div class="t b21" style="left:301px;top:1270px;width:148px;height:53px;">超重</div>
<div class="r" style="left:301px;top:1323px;width:148px;height:54px;background:#ecf0f3;"></div>
<div class="t b21" style="left:301px;top:1323px;width:148px;height:54px;">肥胖</div>
<div class="r" style="left:449px;top:1165px;width:148px;height:51px;background:#d8e3e4;"></div>
<div class="t b22" style="left:449px;top:1165px;width:148px;height:51px;">100分</div>
<div class="r" style="left:449px;top:1216px;width:148px;height:107px;background:#ecf0f3;"></div>
<div class="t b22" style="left:449px;top:1216px;width:148px;height:107px;">80分</div>
<div class="r" style="left:449px;top:1323px;width:148px;height:54px;background:#ecf0f3;"></div>
<div class="t b22" style="left:449px;top:1323px;width:148px;height:54px;">60分</div>
<div class="r" style="left:597px;top:1165px;width:149px;height:51px;background:#d8e3e4;"></div>
<div class="t n21" style="left:597px;top:1165px;width:149px;height:51px;"><span>13.7~19.4</span></div>
<div class="r" style="left:746px;top:1165px;width:149px;height:51px;background:#d8e3e4;"></div>
<div class="t n21" style="left:746px;top:1165px;width:149px;height:51px;"><span>14.2~20.8</span></div>
<div class="r" style="left:895px;top:1165px;width:149px;height:51px;background:#d8e3e4;"></div>
<div class="t n21" style="left:895px;top:1165px;width:149px;height:51px;"><span>15.3~22.2</span></div>
<div class="r" style="left:1044px;top:1165px;width:148px;height:51px;background:#d8e3e4;"></div>
<div class="t n21" style="left:1044px;top:1165px;width:148px;height:51px;"><span>16.0~22.6</span></div>
<div class="r" style="left:597px;top:1216px;width:149px;height:54px;background:#ecf0f3;"></div>
<div class="t n21" style="left:597px;top:1216px;width:149px;height:54px;"><span>≤13.6</span></div>
<div class="r" style="left:746px;top:1216px;width:149px;height:54px;background:#ecf0f3;"></div>
<div class="t n21" style="left:746px;top:1216px;width:149px;height:54px;"><span>≤14.1</span></div>
<div class="r" style="left:895px;top:1216px;width:149px;height:54px;background:#ecf0f3;"></div>
<div class="t n21" style="left:895px;top:1216px;width:149px;height:54px;"><span>≤15.2</span></div>
<div class="r" style="left:1044px;top:1216px;width:148px;height:54px;background:#ecf0f3;"></div>
<div class="t n21" style="left:1044px;top:1216px;width:148px;height:54px;"><span>≤15.9</span></div>
<div class="r" style="left:597px;top:1270px;width:149px;height:53px;background:#d8e3e4;"></div>
<div class="t n21" style="left:597px;top:1270px;width:149px;height:53px;"><span>19.5~22</span></div>
<div class="r" style="left:746px;top:1270px;width:149px;height:53px;background:#d8e3e4;"></div>
<div class="t n21" style="left:746px;top:1270px;width:149px;height:53px;"><span>20.9~23.6</span></div>
<div class="r" style="left:895px;top:1270px;width:149px;height:53px;background:#d8e3e4;"></div>
<div class="t n21" style="left:895px;top:1270px;width:149px;height:53px;"><span>22.3~24.8</span></div>
<div class="r" style="left:1044px;top:1270px;width:148px;height:53px;background:#d8e3e4;"></div>
<div class="t n21" style="left:1044px;top:1270px;width:148px;height:53px;"><span>22.7~25.1</span></div>
<div class="r" style="left:597px;top:1323px;width:149px;height:54px;background:#ecf0f3;"></div>
<div class="t n21" style="left:597px;top:1323px;width:149px;height:54px;"><span>≥22.1</span></div>
<div class="r" style="left:746px;top:1323px;width:149px;height:54px;background:#ecf0f3;"></div>
<div class="t n21" style="left:746px;top:1323px;width:149px;height:54px;"><span>≥23.7</span></div>
<div class="r" style="left:895px;top:1323px;width:149px;height:54px;background:#ecf0f3;"></div>
<div class="t n21" style="left:895px;top:1323px;width:149px;height:54px;"><span>≥24.9</span></div>
<div class="r" style="left:1044px;top:1323px;width:148px;height:54px;background:#ecf0f3;"></div>
<div class="t n21" style="left:1044px;top:1323px;width:148px;height:54px;"><span>≥25.2</span></div>
<div class="r" style="left:448px;top:1165px;width:2px;height:51px;background:rgba(255,255,255,0.5);"></div>
<div class="r" style="left:448px;top:1216px;width:2px;height:54px;background:rgba(255,255,255,0.5);"></div>
<div class="r" style="left:448px;top:1270px;width:2px;height:53px;background:rgba(255,255,255,0.5);"></div>
<div class="r" style="left:448px;top:1323px;width:2px;height:54px;background:rgba(255,255,255,0.5);"></div>
<div class="r" style="left:596px;top:1165px;width:2px;height:51px;background:rgba(255,255,255,0.5);"></div>
<div class="r" style="left:596px;top:1216px;width:2px;height:107px;background:rgba(255,255,255,0.5);"></div>
<div class="r" style="left:596px;top:1323px;width:2px;height:54px;background:rgba(255,255,255,0.5);"></div>
<div class="r" style="left:745px;top:1165px;width:2px;height:51px;background:rgba(255,255,255,0.5);"></div>
<div class="r" style="left:894px;top:1165px;width:2px;height:51px;background:rgba(255,255,255,0.5);"></div>
<div class="r" style="left:1043px;top:1165px;width:2px;height:51px;background:rgba(255,255,255,0.5);"></div>
<div class="r" style="left:745px;top:1216px;width:2px;height:54px;background:rgba(255,255,255,0.5);"></div>
<div class="r" style="left:894px;top:1216px;width:2px;height:54px;background:rgba(255,255,255,0.5);"></div>
<div class="r" style="left:1043px;top:1216px;width:2px;height:54px;background:rgba(255,255,255,0.5);"></div>
<div class="r" style="left:745px;top:1270px;width:2px;height:53px;background:rgba(255,255,255,0.5);"></div>
<div class="r" style="left:894px;top:1270px;width:2px;height:53px;background:rgba(255,255,255,0.5);"></div>
<div class="r" style="left:1043px;top:1270px;width:2px;height:53px;background:rgba(255,255,255,0.5);"></div>
<div class="r" style="left:745px;top:1323px;width:2px;height:54px;background:rgba(255,255,255,0.5);"></div>
<div class="r" style="left:894px;top:1323px;width:2px;height:54px;background:rgba(255,255,255,0.5);"></div>
<div class="r" style="left:1043px;top:1323px;width:2px;height:54px;background:rgba(255,255,255,0.5);"></div>
<div class="r" style="left:301px;top:1215px;width:148px;height:1.5px;background:rgba(255,255,255,0.45);"></div>
<div class="r" style="left:301px;top:1269px;width:148px;height:1.5px;background:rgba(255,255,255,0.45);"></div>
<div class="r" style="left:301px;top:1322px;width:148px;height:1.5px;background:rgba(255,255,255,0.45);"></div>
<div class="r" style="left:449px;top:1215px;width:148px;height:1.5px;background:rgba(255,255,255,0.45);"></div>
<div class="r" style="left:449px;top:1322px;width:148px;height:1.5px;background:rgba(255,255,255,0.45);"></div>
<div class="r" style="left:597px;top:1215px;width:149px;height:1.5px;background:rgba(255,255,255,0.45);"></div>
<div class="r" style="left:746px;top:1215px;width:149px;height:1.5px;background:rgba(255,255,255,0.45);"></div>
<div class="r" style="left:895px;top:1215px;width:149px;height:1.5px;background:rgba(255,255,255,0.45);"></div>
<div class="r" style="left:1044px;top:1215px;width:148px;height:1.5px;background:rgba(255,255,255,0.45);"></div>
<div class="r" style="left:597px;top:1269px;width:149px;height:1.5px;background:rgba(255,255,255,0.45);"></div>
<div class="r" style="left:746px;top:1269px;width:149px;height:1.5px;background:rgba(255,255,255,0.45);"></div>
<div class="r" style="left:895px;top:1269px;width:149px;height:1.5px;background:rgba(255,255,255,0.45);"></div>
<div class="r" style="left:1044px;top:1269px;width:148px;height:1.5px;background:rgba(255,255,255,0.45);"></div>
<div class="r" style="left:597px;top:1322px;width:149px;height:1.5px;background:rgba(255,255,255,0.45);"></div>
<div class="r" style="left:746px;top:1322px;width:149px;height:1.5px;background:rgba(255,255,255,0.45);"></div>
<div class="r" style="left:895px;top:1322px;width:149px;height:1.5px;background:rgba(255,255,255,0.45);"></div>
<div class="r" style="left:1044px;top:1322px;width:148px;height:1.5px;background:rgba(255,255,255,0.45);"></div>
<div class="t foot" style="left:900px;top:1385px;width:304px;height:26px;">BMI=体重（kg）÷身高<sup>2</sup>（m）</div>
<div class="t ttl" style="left:99px;top:1461px;width:501px;height:25px;">国家学生体质健康测试过程性考核</div>
<div class="r" style="left:47px;top:1488px;width:389px;height:10px;background:#2f93b5;box-shadow:inset 0 0 0 1px rgba(40,80,100,0.25)"></div>
<div class="r" style="left:445px;top:1488px;width:389px;height:10px;background:#59b3bb;box-shadow:inset 0 0 0 1px rgba(40,90,100,0.2)"></div>
<div class="r" style="left:844px;top:1488px;width:389px;height:10px;background:#7b8a8a;"></div>
<svg class="r" style="left:40px;top:1530px" width="190" height="190" viewBox="40 1530 190 190">
<circle cx="117.7" cy="1641" r="50.5" fill="none" stroke="#cfe1e5" stroke-width="15"/>
<line x1="150" y1="1609" x2="202" y2="1559" stroke="#cfe1e5" stroke-width="15"/>
<path d="M177.5,1558.2 L203.5,1558.2 L203.5,1582" fill="none" stroke="#cfe1e5" stroke-width="14.6" stroke-linecap="round" stroke-linejoin="miter"/>
</svg>
<div class="t gs" style="left:68px;top:1622px;width:96px;height:42px;font-size:32px;font-weight:bold">男生</div>
<div class="t vt" style="left:85px;top:1747.0px;width:60px;height:42.59999999999991px;font-size:31px;line-height:42.6px;font-weight:bold">六</div>
<div class="t vt" style="left:85px;top:1789.6px;width:60px;height:42.59999999999991px;font-size:31px;line-height:42.6px;font-weight:bold">年</div>
<div class="t vt" style="left:85px;top:1832.2px;width:60px;height:42.59999999999991px;font-size:31px;line-height:42.6px;font-weight:bold">级</div>
<div class="t vt" style="left:85px;top:1874.8px;width:60px;height:42.59999999999991px;font-size:31px;line-height:42.6px;font-weight:bold">测</div>
<div class="t vt" style="left:85px;top:1917.4px;width:60px;height:42.59999999999991px;font-size:31px;line-height:42.6px;font-weight:bold">试</div>
<div class="t vt" style="left:85px;top:1960.0px;width:60px;height:42.59999999999991px;font-size:31px;line-height:42.6px;font-weight:bold">项</div>
<div class="t vt" style="left:85px;top:2002.6px;width:60px;height:42.59999999999991px;font-size:31px;line-height:42.6px;font-weight:bold">目</div>
<div class="r" style="left:232px;top:1547px;width:98px;height:68px;background:#84a9b3;"></div>
<div class="t hw20" style="left:232px;top:1547px;width:98px;height:68px;">等级</div>
<div class="r" style="left:330px;top:1547px;width:99px;height:68px;background:#84a9b3;"></div>
<div class="t hw20" style="left:330px;top:1547px;width:99px;height:68px;">得分</div>
<div class="r" style="left:429px;top:1547px;width:104px;height:68px;background:#84a9b3;"></div>
<div class="t hw20" style="left:429px;top:1547px;width:104px;height:68px;">肺活量<br>（ml）</div>
<div class="r" style="left:533px;top:1547px;width:117px;height:68px;background:#84a9b3;"></div>
<div class="t hw20" style="left:533px;top:1547px;width:117px;height:68px;">50米跑<br>（秒）</div>
<div class="r" style="left:650px;top:1547px;width:123px;height:68px;background:#84a9b3;"></div>
<div class="t hw20" style="left:650px;top:1547px;width:123px;height:68px;">坐位体前屈<br>（厘米）</div>
<div class="r" style="left:773px;top:1547px;width:127px;height:68px;background:#84a9b3;"></div>
<div class="t hw20" style="left:773px;top:1547px;width:127px;height:68px;">1分钟跳绳</div>
<div class="r" style="left:900px;top:1547px;width:152px;height:68px;background:#84a9b3;"></div>
<div class="t hw20" style="left:900px;top:1547px;width:152px;height:68px;">1分钟仰卧起坐</div>
<div class="r" style="left:1052px;top:1547px;width:153px;height:68px;background:#84a9b3;"></div>
<div class="t hw20" style="left:1052px;top:1547px;width:153px;height:68px;">50米*8往返跑</div>
<div class="r" style="left:329px;top:1547px;width:2px;height:68px;background:rgba(255,255,255,0.5);"></div>
<div class="r" style="left:428px;top:1547px;width:2px;height:68px;background:rgba(255,255,255,0.5);"></div>
<div class="r" style="left:532px;top:1547px;width:2px;height:68px;background:rgba(255,255,255,0.5);"></div>
<div class="r" style="left:649px;top:1547px;width:2px;height:68px;background:rgba(255,255,255,0.5);"></div>
<div class="r" style="left:772px;top:1547px;width:2px;height:68px;background:rgba(255,255,255,0.5);"></div>
<div class="r" style="left:899px;top:1547px;width:2px;height:68px;background:rgba(255,255,255,0.5);"></div>
<div class="r" style="left:1051px;top:1547px;width:2px;height:68px;background:rgba(255,255,255,0.5);"></div>
<div class="r" style="left:232px;top:1615px;width:973px;height:4px;background:#ffffff;"></div>
<div class="r" style="left:232px;top:1619px;width:197px;height:50.59999999999991px;background:#d8e3e4;"></div>
<div class="t b21" style="left:232px;top:1619px;width:197px;height:50.59999999999991px;">权重</div>
<div class="r" style="left:429px;top:1619px;width:104px;height:50.59999999999991px;background:#d8e3e4;"></div>
<div class="t b22" style="left:429px;top:1619px;width:104px;height:50.59999999999991px;">15%</div>
<div class="r" style="left:533px;top:1619px;width:117px;height:50.59999999999991px;background:#d8e3e4;"></div>
<div class="t b22" style="left:533px;top:1619px;width:117px;height:50.59999999999991px;">20%</div>
<div class="r" style="left:650px;top:1619px;width:123px;height:50.59999999999991px;background:#d8e3e4;"></div>
<div class="t b22" style="left:650px;top:1619px;width:123px;height:50.59999999999991px;">10%</div>
<div class="r" style="left:773px;top:1619px;width:127px;height:50.59999999999991px;background:#d8e3e4;"></div>
<div class="t b22" style="left:773px;top:1619px;width:127px;height:50.59999999999991px;">10%</div>
<div class="r" style="left:900px;top:1619px;width:152px;height:50.59999999999991px;background:#d8e3e4;"></div>
<div class="t b22" style="left:900px;top:1619px;width:152px;height:50.59999999999991px;">20%</div>
<div class="r" style="left:1052px;top:1619px;width:153px;height:50.59999999999991px;background:#d8e3e4;"></div>
<div class="t b22" style="left:1052px;top:1619px;width:153px;height:50.59999999999991px;">10%</div>
<div class="r" style="left:232px;top:1669.6px;width:98px;height:163.70000000000005px;background:#ecf0f3;"></div>
<div class="t b21" style="left:232px;top:1669.6px;width:98px;height:163.70000000000005px;">优秀</div>
<div class="r" style="left:232px;top:1833.3px;width:98px;height:107.20000000000005px;background:#d8e3e4;"></div>
<div class="t b21" style="left:232px;top:1833.3px;width:98px;height:107.20000000000005px;">良好</div>
<div class="r" style="left:232px;top:1940.5px;width:98px;height:108.19999999999982px;background:#d8e3e4;"></div>
<div class="t b21" style="left:232px;top:1940.5px;width:98px;height:108.19999999999982px;">及格</div>
<div class="r" style="left:232px;top:2048.7px;width:98px;height:53.30000000000018px;background:#d8e3e4;"></div>
<div class="t b21" style="left:232px;top:2048.7px;width:98px;height:53.30000000000018px;">不及格</div>
<div class="r" style="left:330px;top:1669.6px;width:99px;height:55.700000000000045px;background:#ecf0f3;"></div>
<div class="t b22" style="left:330px;top:1669.6px;width:99px;height:55.700000000000045px;">100</div>
<div class="r" style="left:429px;top:1669.6px;width:104px;height:55.700000000000045px;background:#ecf0f3;"></div>
<div class="t n21" style="left:429px;top:1669.6px;width:104px;height:55.700000000000045px;"><span>3200</span></div>
<div class="r" style="left:533px;top:1669.6px;width:117px;height:55.700000000000045px;background:#ecf0f3;"></div>
<div class="t n21" style="left:533px;top:1669.6px;width:117px;height:55.700000000000045px;"><span>8.2</span></div>
<div class="r" style="left:650px;top:1669.6px;width:123px;height:55.700000000000045px;background:#ecf0f3;"></div>
<div class="t n21" style="left:650px;top:1669.6px;width:123px;height:55.700000000000045px;"><span>16.6</span></div>
<div class="r" style="left:773px;top:1669.6px;width:127px;height:55.700000000000045px;background:#ecf0f3;"></div>
<div class="t n21" style="left:773px;top:1669.6px;width:127px;height:55.700000000000045px;"><span>157</span></div>
<div class="r" style="left:900px;top:1669.6px;width:152px;height:55.700000000000045px;background:#ecf0f3;"></div>
<div class="t n21" style="left:900px;top:1669.6px;width:152px;height:55.700000000000045px;"><span>51</span></div>
<div class="r" style="left:1052px;top:1669.6px;width:153px;height:55.700000000000045px;background:#ecf0f3;"></div>
<div class="t n21" style="left:1052px;top:1669.6px;width:153px;height:55.700000000000045px;"><span>1'30"</span></div>
<div class="r" style="left:330px;top:1725.3px;width:99px;height:52.299999999999955px;background:#d8e3e4;"></div>
<div class="t b22" style="left:330px;top:1725.3px;width:99px;height:52.299999999999955px;">95</div>
<div class="r" style="left:429px;top:1725.3px;width:104px;height:52.299999999999955px;background:#d8e3e4;"></div>
<div class="t n21" style="left:429px;top:1725.3px;width:104px;height:52.299999999999955px;"><span>3100</span></div>
<div class="r" style="left:533px;top:1725.3px;width:117px;height:52.299999999999955px;background:#d8e3e4;"></div>
<div class="t n21" style="left:533px;top:1725.3px;width:117px;height:52.299999999999955px;"><span>8.3</span></div>
<div class="r" style="left:650px;top:1725.3px;width:123px;height:52.299999999999955px;background:#d8e3e4;"></div>
<div class="t n21" style="left:650px;top:1725.3px;width:123px;height:52.299999999999955px;"><span>15.3</span></div>
<div class="r" style="left:773px;top:1725.3px;width:127px;height:52.299999999999955px;background:#d8e3e4;"></div>
<div class="t n21" style="left:773px;top:1725.3px;width:127px;height:52.299999999999955px;"><span>152</span></div>
<div class="r" style="left:900px;top:1725.3px;width:152px;height:52.299999999999955px;background:#d8e3e4;"></div>
<div class="t n21" style="left:900px;top:1725.3px;width:152px;height:52.299999999999955px;"><span>48</span></div>
<div class="r" style="left:1052px;top:1725.3px;width:153px;height:52.299999999999955px;background:#d8e3e4;"></div>
<div class="t n21" style="left:1052px;top:1725.3px;width:153px;height:52.299999999999955px;"><span>1'33"</span></div>
<div class="r" style="left:330px;top:1777.6px;width:99px;height:55.700000000000045px;background:#ecf0f3;"></div>
<div class="t b22" style="left:330px;top:1777.6px;width:99px;height:55.700000000000045px;">90</div>
<div class="r" style="left:429px;top:1777.6px;width:104px;height:55.700000000000045px;background:#ecf0f3;"></div>
<div class="t n21" style="left:429px;top:1777.6px;width:104px;height:55.700000000000045px;"><span>3000</span></div>
<div class="r" style="left:533px;top:1777.6px;width:117px;height:55.700000000000045px;background:#ecf0f3;"></div>
<div class="t n21" style="left:533px;top:1777.6px;width:117px;height:55.700000000000045px;"><span>8.4</span></div>
<div class="r" style="left:650px;top:1777.6px;width:123px;height:55.700000000000045px;background:#ecf0f3;"></div>
<div class="t n21" style="left:650px;top:1777.6px;width:123px;height:55.700000000000045px;"><span>14.0</span></div>
<div class="r" style="left:773px;top:1777.6px;width:127px;height:55.700000000000045px;background:#ecf0f3;"></div>
<div class="t n21" style="left:773px;top:1777.6px;width:127px;height:55.700000000000045px;"><span>147</span></div>
<div class="r" style="left:900px;top:1777.6px;width:152px;height:55.700000000000045px;background:#ecf0f3;"></div>
<div class="t n21" style="left:900px;top:1777.6px;width:152px;height:55.700000000000045px;"><span>45</span></div>
<div class="r" style="left:1052px;top:1777.6px;width:153px;height:55.700000000000045px;background:#ecf0f3;"></div>
<div class="t n21" style="left:1052px;top:1777.6px;width:153px;height:55.700000000000045px;"><span>1'36"</span></div>
<div class="r" style="left:330px;top:1833.3px;width:99px;height:52.40000000000009px;background:#d8e3e4;"></div>
<div class="t b22" style="left:330px;top:1833.3px;width:99px;height:52.40000000000009px;">85</div>
<div class="r" style="left:429px;top:1833.3px;width:104px;height:52.40000000000009px;background:#d8e3e4;"></div>
<div class="t n21" style="left:429px;top:1833.3px;width:104px;height:52.40000000000009px;"><span>2750</span></div>
<div class="r" style="left:533px;top:1833.3px;width:117px;height:52.40000000000009px;background:#d8e3e4;"></div>
<div class="t n21" style="left:533px;top:1833.3px;width:117px;height:52.40000000000009px;"><span>8.5</span></div>
<div class="r" style="left:650px;top:1833.3px;width:123px;height:52.40000000000009px;background:#d8e3e4;"></div>
<div class="t n21" style="left:650px;top:1833.3px;width:123px;height:52.40000000000009px;"><span>11.5</span></div>
<div class="r" style="left:773px;top:1833.3px;width:127px;height:52.40000000000009px;background:#d8e3e4;"></div>
<div class="t n21" style="left:773px;top:1833.3px;width:127px;height:52.40000000000009px;"><span>141</span></div>
<div class="r" style="left:900px;top:1833.3px;width:152px;height:52.40000000000009px;background:#d8e3e4;"></div>
<div class="t n21" style="left:900px;top:1833.3px;width:152px;height:52.40000000000009px;"><span>42</span></div>
<div class="r" style="left:1052px;top:1833.3px;width:153px;height:52.40000000000009px;background:#d8e3e4;"></div>
<div class="t n21" style="left:1052px;top:1833.3px;width:153px;height:52.40000000000009px;"><span>1'39"</span></div>
<div class="r" style="left:330px;top:1885.7px;width:99px;height:54.799999999999955px;background:#ecf0f3;"></div>
<div class="t b22" style="left:330px;top:1885.7px;width:99px;height:54.799999999999955px;">80</div>
<div class="r" style="left:429px;top:1885.7px;width:104px;height:54.799999999999955px;background:#ecf0f3;"></div>
<div class="t n21" style="left:429px;top:1885.7px;width:104px;height:54.799999999999955px;"><span>2500</span></div>
<div class="r" style="left:533px;top:1885.7px;width:117px;height:54.799999999999955px;background:#ecf0f3;"></div>
<div class="t n21" style="left:533px;top:1885.7px;width:117px;height:54.799999999999955px;"><span>8.6</span></div>
<div class="r" style="left:650px;top:1885.7px;width:123px;height:54.799999999999955px;background:#ecf0f3;"></div>
<div class="t n21" style="left:650px;top:1885.7px;width:123px;height:54.799999999999955px;"><span>9.0</span></div>
<div class="r" style="left:773px;top:1885.7px;width:127px;height:54.799999999999955px;background:#ecf0f3;"></div>
<div class="t n21" style="left:773px;top:1885.7px;width:127px;height:54.799999999999955px;"><span>135</span></div>
<div class="r" style="left:900px;top:1885.7px;width:152px;height:54.799999999999955px;background:#ecf0f3;"></div>
<div class="t n21" style="left:900px;top:1885.7px;width:152px;height:54.799999999999955px;"><span>39</span></div>
<div class="r" style="left:1052px;top:1885.7px;width:153px;height:54.799999999999955px;background:#ecf0f3;"></div>
<div class="t n21" style="left:1052px;top:1885.7px;width:153px;height:54.799999999999955px;"><span>1'42"</span></div>
<div class="r" style="left:330px;top:1940.5px;width:99px;height:53.799999999999955px;background:#d8e3e4;"></div>
<div class="t b22" style="left:330px;top:1940.5px;width:99px;height:53.799999999999955px;">78</div>
<div class="r" style="left:429px;top:1940.5px;width:104px;height:53.799999999999955px;background:#d8e3e4;"></div>
<div class="t n21" style="left:429px;top:1940.5px;width:104px;height:53.799999999999955px;"><span>2400</span></div>
<div class="r" style="left:533px;top:1940.5px;width:117px;height:53.799999999999955px;background:#d8e3e4;"></div>
<div class="t n21" style="left:533px;top:1940.5px;width:117px;height:53.799999999999955px;"><span>8.8</span></div>
<div class="r" style="left:650px;top:1940.5px;width:123px;height:53.799999999999955px;background:#d8e3e4;"></div>
<div class="t n21" style="left:650px;top:1940.5px;width:123px;height:53.799999999999955px;"><span>7.7</span></div>
<div class="r" style="left:773px;top:1940.5px;width:127px;height:53.799999999999955px;background:#d8e3e4;"></div>
<div class="t n21" style="left:773px;top:1940.5px;width:127px;height:53.799999999999955px;"><span>128</span></div>
<div class="r" style="left:900px;top:1940.5px;width:152px;height:53.799999999999955px;background:#d8e3e4;"></div>
<div class="t n21" style="left:900px;top:1940.5px;width:152px;height:53.799999999999955px;"><span>37</span></div>
<div class="r" style="left:1052px;top:1940.5px;width:153px;height:53.799999999999955px;background:#d8e3e4;"></div>
<div class="t n21" style="left:1052px;top:1940.5px;width:153px;height:53.799999999999955px;"><span>1'45"</span></div>
<div class="r" style="left:330px;top:1994.3px;width:99px;height:54.399999999999864px;background:#ecf0f3;"></div>
<div class="t b22" style="left:330px;top:1994.3px;width:99px;height:54.399999999999864px;">60</div>
<div class="r" style="left:429px;top:1994.3px;width:104px;height:54.399999999999864px;background:#ecf0f3;"></div>
<div class="t n21" style="left:429px;top:1994.3px;width:104px;height:54.399999999999864px;"><span>1500</span></div>
<div class="r" style="left:533px;top:1994.3px;width:117px;height:54.399999999999864px;background:#ecf0f3;"></div>
<div class="t n21" style="left:533px;top:1994.3px;width:117px;height:54.399999999999864px;"><span>10.6</span></div>
<div class="r" style="left:650px;top:1994.3px;width:123px;height:54.399999999999864px;background:#ecf0f3;"></div>
<div class="t n21" style="left:650px;top:1994.3px;width:123px;height:54.399999999999864px;"><span>-4.0</span></div>
<div class="r" style="left:773px;top:1994.3px;width:127px;height:54.399999999999864px;background:#ecf0f3;"></div>
<div class="t n21" style="left:773px;top:1994.3px;width:127px;height:54.399999999999864px;"><span>65</span></div>
<div class="r" style="left:900px;top:1994.3px;width:152px;height:54.399999999999864px;background:#ecf0f3;"></div>
<div class="t n21" style="left:900px;top:1994.3px;width:152px;height:54.399999999999864px;"><span>19</span></div>
<div class="r" style="left:1052px;top:1994.3px;width:153px;height:54.399999999999864px;background:#ecf0f3;"></div>
<div class="t n21" style="left:1052px;top:1994.3px;width:153px;height:54.399999999999864px;"><span>2'12"</span></div>
<div class="r" style="left:330px;top:2048.7px;width:99px;height:53.30000000000018px;background:#d8e3e4;"></div>
<div class="t b22" style="left:330px;top:2048.7px;width:99px;height:53.30000000000018px;">50</div>
<div class="r" style="left:429px;top:2048.7px;width:104px;height:53.30000000000018px;background:#d8e3e4;"></div>
<div class="t n21" style="left:429px;top:2048.7px;width:104px;height:53.30000000000018px;"><span>1410</span></div>
<div class="r" style="left:533px;top:2048.7px;width:117px;height:53.30000000000018px;background:#d8e3e4;"></div>
<div class="t n21" style="left:533px;top:2048.7px;width:117px;height:53.30000000000018px;"><span>10.8</span></div>
<div class="r" style="left:650px;top:2048.7px;width:123px;height:53.30000000000018px;background:#d8e3e4;"></div>
<div class="t n21" style="left:650px;top:2048.7px;width:123px;height:53.30000000000018px;"><span>-5.0</span></div>
<div class="r" style="left:773px;top:2048.7px;width:127px;height:53.30000000000018px;background:#d8e3e4;"></div>
<div class="t n21" style="left:773px;top:2048.7px;width:127px;height:53.30000000000018px;"><span>62</span></div>
<div class="r" style="left:900px;top:2048.7px;width:152px;height:53.30000000000018px;background:#d8e3e4;"></div>
<div class="t n21" style="left:900px;top:2048.7px;width:152px;height:53.30000000000018px;"><span>17</span></div>
<div class="r" style="left:1052px;top:2048.7px;width:153px;height:53.30000000000018px;background:#d8e3e4;"></div>
<div class="t n21" style="left:1052px;top:2048.7px;width:153px;height:53.30000000000018px;"><span>2'16"</span></div>
<div class="r" style="left:428px;top:1619px;width:2px;height:50.59999999999991px;background:rgba(255,255,255,0.5);"></div>
<div class="r" style="left:532px;top:1619px;width:2px;height:50.59999999999991px;background:rgba(255,255,255,0.5);"></div>
<div class="r" style="left:649px;top:1619px;width:2px;height:50.59999999999991px;background:rgba(255,255,255,0.5);"></div>
<div class="r" style="left:772px;top:1619px;width:2px;height:50.59999999999991px;background:rgba(255,255,255,0.5);"></div>
<div class="r" style="left:899px;top:1619px;width:2px;height:50.59999999999991px;background:rgba(255,255,255,0.5);"></div>
<div class="r" style="left:1051px;top:1619px;width:2px;height:50.59999999999991px;background:rgba(255,255,255,0.5);"></div>
<div class="r" style="left:329px;top:1669.6px;width:2px;height:163.70000000000005px;background:rgba(255,255,255,0.5);"></div>
<div class="r" style="left:329px;top:1833.3px;width:2px;height:107.20000000000005px;background:rgba(255,255,255,0.5);"></div>
<div class="r" style="left:329px;top:1940.5px;width:2px;height:108.19999999999982px;background:rgba(255,255,255,0.5);"></div>
<div class="r" style="left:329px;top:2048.7px;width:2px;height:53.30000000000018px;background:rgba(255,255,255,0.5);"></div>
<div class="r" style="left:428px;top:1669.6px;width:2px;height:55.700000000000045px;background:rgba(255,255,255,0.5);"></div>
<div class="r" style="left:532px;top:1669.6px;width:2px;height:55.700000000000045px;background:rgba(255,255,255,0.5);"></div>
<div class="r" style="left:649px;top:1669.6px;width:2px;height:55.700000000000045px;background:rgba(255,255,255,0.5);"></div>
<div class="r" style="left:772px;top:1669.6px;width:2px;height:55.700000000000045px;background:rgba(255,255,255,0.5);"></div>
<div class="r" style="left:899px;top:1669.6px;width:2px;height:55.700000000000045px;background:rgba(255,255,255,0.5);"></div>
<div class="r" style="left:1051px;top:1669.6px;width:2px;height:55.700000000000045px;background:rgba(255,255,255,0.5);"></div>
<div class="r" style="left:428px;top:1725.3px;width:2px;height:52.299999999999955px;background:rgba(255,255,255,0.5);"></div>
<div class="r" style="left:532px;top:1725.3px;width:2px;height:52.299999999999955px;background:rgba(255,255,255,0.5);"></div>
<div class="r" style="left:649px;top:1725.3px;width:2px;height:52.299999999999955px;background:rgba(255,255,255,0.5);"></div>
<div class="r" style="left:772px;top:1725.3px;width:2px;height:52.299999999999955px;background:rgba(255,255,255,0.5);"></div>
<div class="r" style="left:899px;top:1725.3px;width:2px;height:52.299999999999955px;background:rgba(255,255,255,0.5);"></div>
<div class="r" style="left:1051px;top:1725.3px;width:2px;height:52.299999999999955px;background:rgba(255,255,255,0.5);"></div>
<div class="r" style="left:428px;top:1777.6px;width:2px;height:55.700000000000045px;background:rgba(255,255,255,0.5);"></div>
<div class="r" style="left:532px;top:1777.6px;width:2px;height:55.700000000000045px;background:rgba(255,255,255,0.5);"></div>
<div class="r" style="left:649px;top:1777.6px;width:2px;height:55.700000000000045px;background:rgba(255,255,255,0.5);"></div>
<div class="r" style="left:772px;top:1777.6px;width:2px;height:55.700000000000045px;background:rgba(255,255,255,0.5);"></div>
<div class="r" style="left:899px;top:1777.6px;width:2px;height:55.700000000000045px;background:rgba(255,255,255,0.5);"></div>
<div class="r" style="left:1051px;top:1777.6px;width:2px;height:55.700000000000045px;background:rgba(255,255,255,0.5);"></div>
<div class="r" style="left:428px;top:1833.3px;width:2px;height:52.40000000000009px;background:rgba(255,255,255,0.5);"></div>
<div class="r" style="left:532px;top:1833.3px;width:2px;height:52.40000000000009px;background:rgba(255,255,255,0.5);"></div>
<div class="r" style="left:649px;top:1833.3px;width:2px;height:52.40000000000009px;background:rgba(255,255,255,0.5);"></div>
<div class="r" style="left:772px;top:1833.3px;width:2px;height:52.40000000000009px;background:rgba(255,255,255,0.5);"></div>
<div class="r" style="left:899px;top:1833.3px;width:2px;height:52.40000000000009px;background:rgba(255,255,255,0.5);"></div>
<div class="r" style="left:1051px;top:1833.3px;width:2px;height:52.40000000000009px;background:rgba(255,255,255,0.5);"></div>
<div class="r" style="left:428px;top:1885.7px;width:2px;height:54.799999999999955px;background:rgba(255,255,255,0.5);"></div>
<div class="r" style="left:532px;top:1885.7px;width:2px;height:54.799999999999955px;background:rgba(255,255,255,0.5);"></div>
<div class="r" style="left:649px;top:1885.7px;width:2px;height:54.799999999999955px;background:rgba(255,255,255,0.5);"></div>
<div class="r" style="left:772px;top:1885.7px;width:2px;height:54.799999999999955px;background:rgba(255,255,255,0.5);"></div>
<div class="r" style="left:899px;top:1885.7px;width:2px;height:54.799999999999955px;background:rgba(255,255,255,0.5);"></div>
<div class="r" style="left:1051px;top:1885.7px;width:2px;height:54.799999999999955px;background:rgba(255,255,255,0.5);"></div>
<div class="r" style="left:428px;top:1940.5px;width:2px;height:53.799999999999955px;background:rgba(255,255,255,0.5);"></div>
<div class="r" style="left:532px;top:1940.5px;width:2px;height:53.799999999999955px;background:rgba(255,255,255,0.5);"></div>
<div class="r" style="left:649px;top:1940.5px;width:2px;height:53.799999999999955px;background:rgba(255,255,255,0.5);"></div>
<div class="r" style="left:772px;top:1940.5px;width:2px;height:53.799999999999955px;background:rgba(255,255,255,0.5);"></div>
<div class="r" style="left:899px;top:1940.5px;width:2px;height:53.799999999999955px;background:rgba(255,255,255,0.5);"></div>
<div class="r" style="left:1051px;top:1940.5px;width:2px;height:53.799999999999955px;background:rgba(255,255,255,0.5);"></div>
<div class="r" style="left:428px;top:1994.3px;width:2px;height:54.399999999999864px;background:rgba(255,255,255,0.5);"></div>
<div class="r" style="left:532px;top:1994.3px;width:2px;height:54.399999999999864px;background:rgba(255,255,255,0.5);"></div>
<div class="r" style="left:649px;top:1994.3px;width:2px;height:54.399999999999864px;background:rgba(255,255,255,0.5);"></div>
<div class="r" style="left:772px;top:1994.3px;width:2px;height:54.399999999999864px;background:rgba(255,255,255,0.5);"></div>
<div class="r" style="left:899px;top:1994.3px;width:2px;height:54.399999999999864px;background:rgba(255,255,255,0.5);"></div>
<div class="r" style="left:1051px;top:1994.3px;width:2px;height:54.399999999999864px;background:rgba(255,255,255,0.5);"></div>
<div class="r" style="left:428px;top:2048.7px;width:2px;height:53.30000000000018px;background:rgba(255,255,255,0.5);"></div>
<div class="r" style="left:532px;top:2048.7px;width:2px;height:53.30000000000018px;background:rgba(255,255,255,0.5);"></div>
<div class="r" style="left:649px;top:2048.7px;width:2px;height:53.30000000000018px;background:rgba(255,255,255,0.5);"></div>
<div class="r" style="left:772px;top:2048.7px;width:2px;height:53.30000000000018px;background:rgba(255,255,255,0.5);"></div>
<div class="r" style="left:899px;top:2048.7px;width:2px;height:53.30000000000018px;background:rgba(255,255,255,0.5);"></div>
<div class="r" style="left:1051px;top:2048.7px;width:2px;height:53.30000000000018px;background:rgba(255,255,255,0.5);"></div>
<div class="r" style="left:232px;top:1668.6px;width:197px;height:1.5px;background:rgba(255,255,255,0.45);"></div>
<div class="r" style="left:429px;top:1668.6px;width:104px;height:1.5px;background:rgba(255,255,255,0.45);"></div>
<div class="r" style="left:533px;top:1668.6px;width:117px;height:1.5px;background:rgba(255,255,255,0.45);"></div>
<div class="r" style="left:650px;top:1668.6px;width:123px;height:1.5px;background:rgba(255,255,255,0.45);"></div>
<div class="r" style="left:773px;top:1668.6px;width:127px;height:1.5px;background:rgba(255,255,255,0.45);"></div>
<div class="r" style="left:900px;top:1668.6px;width:152px;height:1.5px;background:rgba(255,255,255,0.45);"></div>
<div class="r" style="left:1052px;top:1668.6px;width:153px;height:1.5px;background:rgba(255,255,255,0.45);"></div>
<div class="r" style="left:232px;top:1832.3px;width:98px;height:1.5px;background:rgba(255,255,255,0.45);"></div>
<div class="r" style="left:232px;top:1939.5px;width:98px;height:1.5px;background:rgba(255,255,255,0.45);"></div>
<div class="r" style="left:232px;top:2047.6999999999998px;width:98px;height:1.5px;background:rgba(255,255,255,0.45);"></div>
<div class="r" style="left:330px;top:1724.3px;width:99px;height:1.5px;background:rgba(255,255,255,0.45);"></div>
<div class="r" style="left:429px;top:1724.3px;width:104px;height:1.5px;background:rgba(255,255,255,0.45);"></div>
<div class="r" style="left:533px;top:1724.3px;width:117px;height:1.5px;background:rgba(255,255,255,0.45);"></div>
<div class="r" style="left:650px;top:1724.3px;width:123px;height:1.5px;background:rgba(255,255,255,0.45);"></div>
<div class="r" style="left:773px;top:1724.3px;width:127px;height:1.5px;background:rgba(255,255,255,0.45);"></div>
<div class="r" style="left:900px;top:1724.3px;width:152px;height:1.5px;background:rgba(255,255,255,0.45);"></div>
<div class="r" style="left:1052px;top:1724.3px;width:153px;height:1.5px;background:rgba(255,255,255,0.45);"></div>
<div class="r" style="left:330px;top:1776.6px;width:99px;height:1.5px;background:rgba(255,255,255,0.45);"></div>
<div class="r" style="left:429px;top:1776.6px;width:104px;height:1.5px;background:rgba(255,255,255,0.45);"></div>
<div class="r" style="left:533px;top:1776.6px;width:117px;height:1.5px;background:rgba(255,255,255,0.45);"></div>
<div class="r" style="left:650px;top:1776.6px;width:123px;height:1.5px;background:rgba(255,255,255,0.45);"></div>
<div class="r" style="left:773px;top:1776.6px;width:127px;height:1.5px;background:rgba(255,255,255,0.45);"></div>
<div class="r" style="left:900px;top:1776.6px;width:152px;height:1.5px;background:rgba(255,255,255,0.45);"></div>
<div class="r" style="left:1052px;top:1776.6px;width:153px;height:1.5px;background:rgba(255,255,255,0.45);"></div>
<div class="r" style="left:330px;top:1832.3px;width:99px;height:1.5px;background:rgba(255,255,255,0.45);"></div>
<div class="r" style="left:429px;top:1832.3px;width:104px;height:1.5px;background:rgba(255,255,255,0.45);"></div>
<div class="r" style="left:533px;top:1832.3px;width:117px;height:1.5px;background:rgba(255,255,255,0.45);"></div>
<div class="r" style="left:650px;top:1832.3px;width:123px;height:1.5px;background:rgba(255,255,255,0.45);"></div>
<div class="r" style="left:773px;top:1832.3px;width:127px;height:1.5px;background:rgba(255,255,255,0.45);"></div>
<div class="r" style="left:900px;top:1832.3px;width:152px;height:1.5px;background:rgba(255,255,255,0.45);"></div>
<div class="r" style="left:1052px;top:1832.3px;width:153px;height:1.5px;background:rgba(255,255,255,0.45);"></div>
<div class="r" style="left:330px;top:1884.7px;width:99px;height:1.5px;background:rgba(255,255,255,0.45);"></div>
<div class="r" style="left:429px;top:1884.7px;width:104px;height:1.5px;background:rgba(255,255,255,0.45);"></div>
<div class="r" style="left:533px;top:1884.7px;width:117px;height:1.5px;background:rgba(255,255,255,0.45);"></div>
<div class="r" style="left:650px;top:1884.7px;width:123px;height:1.5px;background:rgba(255,255,255,0.45);"></div>
<div class="r" style="left:773px;top:1884.7px;width:127px;height:1.5px;background:rgba(255,255,255,0.45);"></div>
<div class="r" style="left:900px;top:1884.7px;width:152px;height:1.5px;background:rgba(255,255,255,0.45);"></div>
<div class="r" style="left:1052px;top:1884.7px;width:153px;height:1.5px;background:rgba(255,255,255,0.45);"></div>
<div class="r" style="left:330px;top:1939.5px;width:99px;height:1.5px;background:rgba(255,255,255,0.45);"></div>
<div class="r" style="left:429px;top:1939.5px;width:104px;height:1.5px;background:rgba(255,255,255,0.45);"></div>
<div class="r" style="left:533px;top:1939.5px;width:117px;height:1.5px;background:rgba(255,255,255,0.45);"></div>
<div class="r" style="left:650px;top:1939.5px;width:123px;height:1.5px;background:rgba(255,255,255,0.45);"></div>
<div class="r" style="left:773px;top:1939.5px;width:127px;height:1.5px;background:rgba(255,255,255,0.45);"></div>
<div class="r" style="left:900px;top:1939.5px;width:152px;height:1.5px;background:rgba(255,255,255,0.45);"></div>
<div class="r" style="left:1052px;top:1939.5px;width:153px;height:1.5px;background:rgba(255,255,255,0.45);"></div>
<div class="r" style="left:330px;top:1993.3px;width:99px;height:1.5px;background:rgba(255,255,255,0.45);"></div>
<div class="r" style="left:429px;top:1993.3px;width:104px;height:1.5px;background:rgba(255,255,255,0.45);"></div>
<div class="r" style="left:533px;top:1993.3px;width:117px;height:1.5px;background:rgba(255,255,255,0.45);"></div>
<div class="r" style="left:650px;top:1993.3px;width:123px;height:1.5px;background:rgba(255,255,255,0.45);"></div>
<div class="r" style="left:773px;top:1993.3px;width:127px;height:1.5px;background:rgba(255,255,255,0.45);"></div>
<div class="r" style="left:900px;top:1993.3px;width:152px;height:1.5px;background:rgba(255,255,255,0.45);"></div>
<div class="r" style="left:1052px;top:1993.3px;width:153px;height:1.5px;background:rgba(255,255,255,0.45);"></div>
<div class="r" style="left:330px;top:2047.6999999999998px;width:99px;height:1.5px;background:rgba(255,255,255,0.45);"></div>
<div class="r" style="left:429px;top:2047.6999999999998px;width:104px;height:1.5px;background:rgba(255,255,255,0.45);"></div>
<div class="r" style="left:533px;top:2047.6999999999998px;width:117px;height:1.5px;background:rgba(255,255,255,0.45);"></div>
<div class="r" style="left:650px;top:2047.6999999999998px;width:123px;height:1.5px;background:rgba(255,255,255,0.45);"></div>
<div class="r" style="left:773px;top:2047.6999999999998px;width:127px;height:1.5px;background:rgba(255,255,255,0.45);"></div>
<div class="r" style="left:900px;top:2047.6999999999998px;width:152px;height:1.5px;background:rgba(255,255,255,0.45);"></div>
<div class="r" style="left:1052px;top:2047.6999999999998px;width:153px;height:1.5px;background:rgba(255,255,255,0.45);"></div>
<div class="t ttl" style="left:99px;top:2181px;width:501px;height:25px;">国家学生体质健康测试过程性考核</div>
<div class="r" style="left:47px;top:2208px;width:389px;height:10px;background:#2f93b5;box-shadow:inset 0 0 0 1px rgba(40,80,100,0.25)"></div>
<div class="r" style="left:445px;top:2208px;width:389px;height:10px;background:#59b3bb;box-shadow:inset 0 0 0 1px rgba(40,90,100,0.2)"></div>
<div class="r" style="left:844px;top:2208px;width:389px;height:10px;background:#7b8a8a;"></div>
<div class="t vt" style="left:75px;top:2444px;width:60px;height:43px;font-size:31px;line-height:43px;font-weight:bold">小</div>
<div class="t vt" style="left:75px;top:2487px;width:60px;height:43px;font-size:31px;line-height:43px;font-weight:bold">学</div>
<div class="t vt" style="left:75px;top:2530px;width:60px;height:43px;font-size:31px;line-height:43px;font-weight:bold">加</div>
<div class="t vt" style="left:75px;top:2573px;width:60px;height:43px;font-size:31px;line-height:43px;font-weight:bold">分</div>
<div class="t vt" style="left:75px;top:2616px;width:60px;height:43px;font-size:31px;line-height:43px;font-weight:bold">项</div>
<div class="r" style="left:213px;top:2326px;width:988.5px;height:107px;background:#84a9b3;"></div>
<div class="t hw" style="left:213px;top:2326px;width:988.5px;height:107px;font-size:24px;letter-spacing:0.3px;padding-bottom:3px;box-sizing:border-box">跳绳——四年级&amp;六年级</div>
<div class="r" style="left:213px;top:2433px;width:988.5px;height:4px;background:#ffffff;"></div>
<div class="r" style="left:213px;top:2437px;width:164.0px;height:80px;background:#d8e3e4;"></div>
<div class="t b21" style="left:213px;top:2437px;width:164.0px;height:80px;">加分</div>
<div class="r" style="left:377.0px;top:2437px;width:82.39999999999998px;height:80px;background:#d8e3e4;"></div>
<div class="t b22" style="left:377.0px;top:2437px;width:82.39999999999998px;height:80px;">+20</div>
<div class="r" style="left:459.4px;top:2437px;width:82.5px;height:80px;background:#d8e3e4;"></div>
<div class="t b22" style="left:459.4px;top:2437px;width:82.5px;height:80px;">+19</div>
<div class="r" style="left:541.9px;top:2437px;width:82.5px;height:80px;background:#d8e3e4;"></div>
<div class="t b22" style="left:541.9px;top:2437px;width:82.5px;height:80px;">+18</div>
<div class="r" style="left:624.4px;top:2437px;width:82.39999999999998px;height:80px;background:#d8e3e4;"></div>
<div class="t b22" style="left:624.4px;top:2437px;width:82.39999999999998px;height:80px;">+17</div>
<div class="r" style="left:706.8px;top:2437px;width:82.40000000000009px;height:80px;background:#d8e3e4;"></div>
<div class="t b22" style="left:706.8px;top:2437px;width:82.40000000000009px;height:80px;">+16</div>
<div class="r" style="left:789.2px;top:2437px;width:82.5px;height:80px;background:#d8e3e4;"></div>
<div class="t b22" style="left:789.2px;top:2437px;width:82.5px;height:80px;">+15</div>
<div class="r" style="left:871.7px;top:2437px;width:82.39999999999998px;height:80px;background:#d8e3e4;"></div>
<div class="t b22" style="left:871.7px;top:2437px;width:82.39999999999998px;height:80px;">+14</div>
<div class="r" style="left:954.1px;top:2437px;width:82.49999999999989px;height:80px;background:#d8e3e4;"></div>
<div class="t b22" style="left:954.1px;top:2437px;width:82.49999999999989px;height:80px;">+13</div>
<div class="r" style="left:1036.6px;top:2437px;width:82.5px;height:80px;background:#d8e3e4;"></div>
<div class="t b22" style="left:1036.6px;top:2437px;width:82.5px;height:80px;">+12</div>
<div class="r" style="left:1119.1px;top:2437px;width:82.40000000000009px;height:80px;background:#d8e3e4;"></div>
<div class="t b22" style="left:1119.1px;top:2437px;width:82.40000000000009px;height:80px;">+11</div>
<div class="r" style="left:213px;top:2517px;width:164.0px;height:83px;background:#ecf0f3;"></div>
<div class="t b21" style="left:213px;top:2517px;width:164.0px;height:83px;">超过满分次数</div>
<div class="r" style="left:377.0px;top:2517px;width:82.39999999999998px;height:83px;background:#ecf0f3;"></div>
<div class="t n21" style="left:377.0px;top:2517px;width:82.39999999999998px;height:83px;"><span>40</span></div>
<div class="r" style="left:459.4px;top:2517px;width:82.5px;height:83px;background:#ecf0f3;"></div>
<div class="t n21" style="left:459.4px;top:2517px;width:82.5px;height:83px;"><span>38</span></div>
<div class="r" style="left:541.9px;top:2517px;width:82.5px;height:83px;background:#ecf0f3;"></div>
<div class="t n21" style="left:541.9px;top:2517px;width:82.5px;height:83px;"><span>36</span></div>
<div class="r" style="left:624.4px;top:2517px;width:82.39999999999998px;height:83px;background:#ecf0f3;"></div>
<div class="t n21" style="left:624.4px;top:2517px;width:82.39999999999998px;height:83px;"><span>34</span></div>
<div class="r" style="left:706.8px;top:2517px;width:82.40000000000009px;height:83px;background:#ecf0f3;"></div>
<div class="t n21" style="left:706.8px;top:2517px;width:82.40000000000009px;height:83px;"><span>32</span></div>
<div class="r" style="left:789.2px;top:2517px;width:82.5px;height:83px;background:#ecf0f3;"></div>
<div class="t n21" style="left:789.2px;top:2517px;width:82.5px;height:83px;"><span>30</span></div>
<div class="r" style="left:871.7px;top:2517px;width:82.39999999999998px;height:83px;background:#ecf0f3;"></div>
<div class="t n21" style="left:871.7px;top:2517px;width:82.39999999999998px;height:83px;"><span>28</span></div>
<div class="r" style="left:954.1px;top:2517px;width:82.49999999999989px;height:83px;background:#ecf0f3;"></div>
<div class="t n21" style="left:954.1px;top:2517px;width:82.49999999999989px;height:83px;"><span>26</span></div>
<div class="r" style="left:1036.6px;top:2517px;width:82.5px;height:83px;background:#ecf0f3;"></div>
<div class="t n21" style="left:1036.6px;top:2517px;width:82.5px;height:83px;"><span>24</span></div>
<div class="r" style="left:1119.1px;top:2517px;width:82.40000000000009px;height:83px;background:#ecf0f3;"></div>
<div class="t n21" style="left:1119.1px;top:2517px;width:82.40000000000009px;height:83px;"><span>22</span></div>
<div class="r" style="left:213px;top:2600px;width:164.0px;height:81px;background:#d8e3e4;"></div>
<div class="t b21" style="left:213px;top:2600px;width:164.0px;height:81px;">加分</div>
<div class="r" style="left:377.0px;top:2600px;width:82.39999999999998px;height:81px;background:#d8e3e4;"></div>
<div class="t b22" style="left:377.0px;top:2600px;width:82.39999999999998px;height:81px;">+10</div>
<div class="r" style="left:459.4px;top:2600px;width:82.5px;height:81px;background:#d8e3e4;"></div>
<div class="t b22" style="left:459.4px;top:2600px;width:82.5px;height:81px;">+9</div>
<div class="r" style="left:541.9px;top:2600px;width:82.5px;height:81px;background:#d8e3e4;"></div>
<div class="t b22" style="left:541.9px;top:2600px;width:82.5px;height:81px;">+8</div>
<div class="r" style="left:624.4px;top:2600px;width:82.39999999999998px;height:81px;background:#d8e3e4;"></div>
<div class="t b22" style="left:624.4px;top:2600px;width:82.39999999999998px;height:81px;">+7</div>
<div class="r" style="left:706.8px;top:2600px;width:82.40000000000009px;height:81px;background:#d8e3e4;"></div>
<div class="t b22" style="left:706.8px;top:2600px;width:82.40000000000009px;height:81px;">+6</div>
<div class="r" style="left:789.2px;top:2600px;width:82.5px;height:81px;background:#d8e3e4;"></div>
<div class="t b22" style="left:789.2px;top:2600px;width:82.5px;height:81px;">+5</div>
<div class="r" style="left:871.7px;top:2600px;width:82.39999999999998px;height:81px;background:#d8e3e4;"></div>
<div class="t b22" style="left:871.7px;top:2600px;width:82.39999999999998px;height:81px;">+4</div>
<div class="r" style="left:954.1px;top:2600px;width:82.49999999999989px;height:81px;background:#d8e3e4;"></div>
<div class="t b22" style="left:954.1px;top:2600px;width:82.49999999999989px;height:81px;">+3</div>
<div class="r" style="left:1036.6px;top:2600px;width:82.5px;height:81px;background:#d8e3e4;"></div>
<div class="t b22" style="left:1036.6px;top:2600px;width:82.5px;height:81px;">+2</div>
<div class="r" style="left:1119.1px;top:2600px;width:82.40000000000009px;height:81px;background:#d8e3e4;"></div>
<div class="t b22" style="left:1119.1px;top:2600px;width:82.40000000000009px;height:81px;">+1</div>
<div class="r" style="left:213px;top:2681px;width:164.0px;height:83px;background:#ecf0f3;"></div>
<div class="t b21" style="left:213px;top:2681px;width:164.0px;height:83px;">超过满分次数</div>
<div class="r" style="left:377.0px;top:2681px;width:82.39999999999998px;height:83px;background:#ecf0f3;"></div>
<div class="t n21" style="left:377.0px;top:2681px;width:82.39999999999998px;height:83px;"><span>20</span></div>
<div class="r" style="left:459.4px;top:2681px;width:82.5px;height:83px;background:#ecf0f3;"></div>
<div class="t n21" style="left:459.4px;top:2681px;width:82.5px;height:83px;"><span>18</span></div>
<div class="r" style="left:541.9px;top:2681px;width:82.5px;height:83px;background:#ecf0f3;"></div>
<div class="t n21" style="left:541.9px;top:2681px;width:82.5px;height:83px;"><span>16</span></div>
<div class="r" style="left:624.4px;top:2681px;width:82.39999999999998px;height:83px;background:#ecf0f3;"></div>
<div class="t n21" style="left:624.4px;top:2681px;width:82.39999999999998px;height:83px;"><span>14</span></div>
<div class="r" style="left:706.8px;top:2681px;width:82.40000000000009px;height:83px;background:#ecf0f3;"></div>
<div class="t n21" style="left:706.8px;top:2681px;width:82.40000000000009px;height:83px;"><span>12</span></div>
<div class="r" style="left:789.2px;top:2681px;width:82.5px;height:83px;background:#ecf0f3;"></div>
<div class="t n21" style="left:789.2px;top:2681px;width:82.5px;height:83px;"><span>10</span></div>
<div class="r" style="left:871.7px;top:2681px;width:82.39999999999998px;height:83px;background:#ecf0f3;"></div>
<div class="t n21" style="left:871.7px;top:2681px;width:82.39999999999998px;height:83px;"><span>8</span></div>
<div class="r" style="left:954.1px;top:2681px;width:82.49999999999989px;height:83px;background:#ecf0f3;"></div>
<div class="t n21" style="left:954.1px;top:2681px;width:82.49999999999989px;height:83px;"><span>6</span></div>
<div class="r" style="left:1036.6px;top:2681px;width:82.5px;height:83px;background:#ecf0f3;"></div>
<div class="t n21" style="left:1036.6px;top:2681px;width:82.5px;height:83px;"><span>4</span></div>
<div class="r" style="left:1119.1px;top:2681px;width:82.40000000000009px;height:83px;background:#ecf0f3;"></div>
<div class="t n21" style="left:1119.1px;top:2681px;width:82.40000000000009px;height:83px;"><span>2</span></div>
<div class="r" style="left:376.0px;top:2437px;width:2.0px;height:80px;background:rgba(255,255,255,0.5);"></div>
<div class="r" style="left:458.4px;top:2437px;width:2.0px;height:80px;background:rgba(255,255,255,0.5);"></div>
<div class="r" style="left:540.9px;top:2437px;width:2.0px;height:80px;background:rgba(255,255,255,0.5);"></div>
<div class="r" style="left:623.4px;top:2437px;width:2.0px;height:80px;background:rgba(255,255,255,0.5);"></div>
<div class="r" style="left:705.8px;top:2437px;width:2.0px;height:80px;background:rgba(255,255,255,0.5);"></div>
<div class="r" style="left:788.2px;top:2437px;width:2.0px;height:80px;background:rgba(255,255,255,0.5);"></div>
<div class="r" style="left:870.7px;top:2437px;width:2.0px;height:80px;background:rgba(255,255,255,0.5);"></div>
<div class="r" style="left:953.1px;top:2437px;width:2.0px;height:80px;background:rgba(255,255,255,0.5);"></div>
<div class="r" style="left:1035.6px;top:2437px;width:2.0px;height:80px;background:rgba(255,255,255,0.5);"></div>
<div class="r" style="left:1118.1px;top:2437px;width:2.0px;height:80px;background:rgba(255,255,255,0.5);"></div>
<div class="r" style="left:376.0px;top:2517px;width:2.0px;height:83px;background:rgba(255,255,255,0.5);"></div>
<div class="r" style="left:458.4px;top:2517px;width:2.0px;height:83px;background:rgba(255,255,255,0.5);"></div>
<div class="r" style="left:540.9px;top:2517px;width:2.0px;height:83px;background:rgba(255,255,255,0.5);"></div>
<div class="r" style="left:623.4px;top:2517px;width:2.0px;height:83px;background:rgba(255,255,255,0.5);"></div>
<div class="r" style="left:705.8px;top:2517px;width:2.0px;height:83px;background:rgba(255,255,255,0.5);"></div>
<div class="r" style="left:788.2px;top:2517px;width:2.0px;height:83px;background:rgba(255,255,255,0.5);"></div>
<div class="r" style="left:870.7px;top:2517px;width:2.0px;height:83px;background:rgba(255,255,255,0.5);"></div>
<div class="r" style="left:953.1px;top:2517px;width:2.0px;height:83px;background:rgba(255,255,255,0.5);"></div>
<div class="r" style="left:1035.6px;top:2517px;width:2.0px;height:83px;background:rgba(255,255,255,0.5);"></div>
<div class="r" style="left:1118.1px;top:2517px;width:2.0px;height:83px;background:rgba(255,255,255,0.5);"></div>
<div class="r" style="left:376.0px;top:2600px;width:2.0px;height:81px;background:rgba(255,255,255,0.5);"></div>
<div class="r" style="left:458.4px;top:2600px;width:2.0px;height:81px;background:rgba(255,255,255,0.5);"></div>
<div class="r" style="left:540.9px;top:2600px;width:2.0px;height:81px;background:rgba(255,255,255,0.5);"></div>
<div class="r" style="left:623.4px;top:2600px;width:2.0px;height:81px;background:rgba(255,255,255,0.5);"></div>
<div class="r" style="left:705.8px;top:2600px;width:2.0px;height:81px;background:rgba(255,255,255,0.5);"></div>
<div class="r" style="left:788.2px;top:2600px;width:2.0px;height:81px;background:rgba(255,255,255,0.5);"></div>
<div class="r" style="left:870.7px;top:2600px;width:2.0px;height:81px;background:rgba(255,255,255,0.5);"></div>
<div class="r" style="left:953.1px;top:2600px;width:2.0px;height:81px;background:rgba(255,255,255,0.5);"></div>
<div class="r" style="left:1035.6px;top:2600px;width:2.0px;height:81px;background:rgba(255,255,255,0.5);"></div>
<div class="r" style="left:1118.1px;top:2600px;width:2.0px;height:81px;background:rgba(255,255,255,0.5);"></div>
<div class="r" style="left:376.0px;top:2681px;width:2.0px;height:83px;background:rgba(255,255,255,0.5);"></div>
<div class="r" style="left:458.4px;top:2681px;width:2.0px;height:83px;background:rgba(255,255,255,0.5);"></div>
<div class="r" style="left:540.9px;top:2681px;width:2.0px;height:83px;background:rgba(255,255,255,0.5);"></div>
<div class="r" style="left:623.4px;top:2681px;width:2.0px;height:83px;background:rgba(255,255,255,0.5);"></div>
<div class="r" style="left:705.8px;top:2681px;width:2.0px;height:83px;background:rgba(255,255,255,0.5);"></div>
<div class="r" style="left:788.2px;top:2681px;width:2.0px;height:83px;background:rgba(255,255,255,0.5);"></div>
<div class="r" style="left:870.7px;top:2681px;width:2.0px;height:83px;background:rgba(255,255,255,0.5);"></div>
<div class="r" style="left:953.1px;top:2681px;width:2.0px;height:83px;background:rgba(255,255,255,0.5);"></div>
<div class="r" style="left:1035.6px;top:2681px;width:2.0px;height:83px;background:rgba(255,255,255,0.5);"></div>
<div class="r" style="left:1118.1px;top:2681px;width:2.0px;height:83px;background:rgba(255,255,255,0.5);"></div>
<div class="r" style="left:213px;top:2516px;width:164.0px;height:1.5px;background:rgba(255,255,255,0.45);"></div>
<div class="r" style="left:377.0px;top:2516px;width:82.39999999999998px;height:1.5px;background:rgba(255,255,255,0.45);"></div>
<div class="r" style="left:459.4px;top:2516px;width:82.5px;height:1.5px;background:rgba(255,255,255,0.45);"></div>
<div class="r" style="left:541.9px;top:2516px;width:82.5px;height:1.5px;background:rgba(255,255,255,0.45);"></div>
<div class="r" style="left:624.4px;top:2516px;width:82.39999999999998px;height:1.5px;background:rgba(255,255,255,0.45);"></div>
<div class="r" style="left:706.8px;top:2516px;width:82.40000000000009px;height:1.5px;background:rgba(255,255,255,0.45);"></div>
<div class="r" style="left:789.2px;top:2516px;width:82.5px;height:1.5px;background:rgba(255,255,255,0.45);"></div>
<div class="r" style="left:871.7px;top:2516px;width:82.39999999999998px;height:1.5px;background:rgba(255,255,255,0.45);"></div>
<div class="r" style="left:954.1px;top:2516px;width:82.49999999999989px;height:1.5px;background:rgba(255,255,255,0.45);"></div>
<div class="r" style="left:1036.6px;top:2516px;width:82.5px;height:1.5px;background:rgba(255,255,255,0.45);"></div>
<div class="r" style="left:1119.1px;top:2516px;width:82.40000000000009px;height:1.5px;background:rgba(255,255,255,0.45);"></div>
<div class="r" style="left:213px;top:2599px;width:164.0px;height:1.5px;background:rgba(255,255,255,0.45);"></div>
<div class="r" style="left:377.0px;top:2599px;width:82.39999999999998px;height:1.5px;background:rgba(255,255,255,0.45);"></div>
<div class="r" style="left:459.4px;top:2599px;width:82.5px;height:1.5px;background:rgba(255,255,255,0.45);"></div>
<div class="r" style="left:541.9px;top:2599px;width:82.5px;height:1.5px;background:rgba(255,255,255,0.45);"></div>
<div class="r" style="left:624.4px;top:2599px;width:82.39999999999998px;height:1.5px;background:rgba(255,255,255,0.45);"></div>
<div class="r" style="left:706.8px;top:2599px;width:82.40000000000009px;height:1.5px;background:rgba(255,255,255,0.45);"></div>
<div class="r" style="left:789.2px;top:2599px;width:82.5px;height:1.5px;background:rgba(255,255,255,0.45);"></div>
<div class="r" style="left:871.7px;top:2599px;width:82.39999999999998px;height:1.5px;background:rgba(255,255,255,0.45);"></div>
<div class="r" style="left:954.1px;top:2599px;width:82.49999999999989px;height:1.5px;background:rgba(255,255,255,0.45);"></div>
<div class="r" style="left:1036.6px;top:2599px;width:82.5px;height:1.5px;background:rgba(255,255,255,0.45);"></div>
<div class="r" style="left:1119.1px;top:2599px;width:82.40000000000009px;height:1.5px;background:rgba(255,255,255,0.45);"></div>
<div class="r" style="left:213px;top:2680px;width:164.0px;height:1.5px;background:rgba(255,255,255,0.45);"></div>
<div class="r" style="left:377.0px;top:2680px;width:82.39999999999998px;height:1.5px;background:rgba(255,255,255,0.45);"></div>
<div class="r" style="left:459.4px;top:2680px;width:82.5px;height:1.5px;background:rgba(255,255,255,0.45);"></div>
<div class="r" style="left:541.9px;top:2680px;width:82.5px;height:1.5px;background:rgba(255,255,255,0.45);"></div>
<div class="r" style="left:624.4px;top:2680px;width:82.39999999999998px;height:1.5px;background:rgba(255,255,255,0.45);"></div>
<div class="r" style="left:706.8px;top:2680px;width:82.40000000000009px;height:1.5px;background:rgba(255,255,255,0.45);"></div>
<div class="r" style="left:789.2px;top:2680px;width:82.5px;height:1.5px;background:rgba(255,255,255,0.45);"></div>
<div class="r" style="left:871.7px;top:2680px;width:82.39999999999998px;height:1.5px;background:rgba(255,255,255,0.45);"></div>
<div class="r" style="left:954.1px;top:2680px;width:82.49999999999989px;height:1.5px;background:rgba(255,255,255,0.45);"></div>
<div class="r" style="left:1036.6px;top:2680px;width:82.5px;height:1.5px;background:rgba(255,255,255,0.45);"></div>
<div class="r" style="left:1119.1px;top:2680px;width:82.40000000000009px;height:1.5px;background:rgba(255,255,255,0.45);"></div>
<svg class="r" style="left:1130px;top:2825px" width="130" height="50"><text x="16" y="35" font-family="Liberation Sans, sans-serif" font-size="24" font-weight="bold" fill="#fff" stroke="#2a2a2a" stroke-width="3.2" stroke-linejoin="round" paint-order="stroke" letter-spacing="0">广东龙网</text></svg>
</body></html>
